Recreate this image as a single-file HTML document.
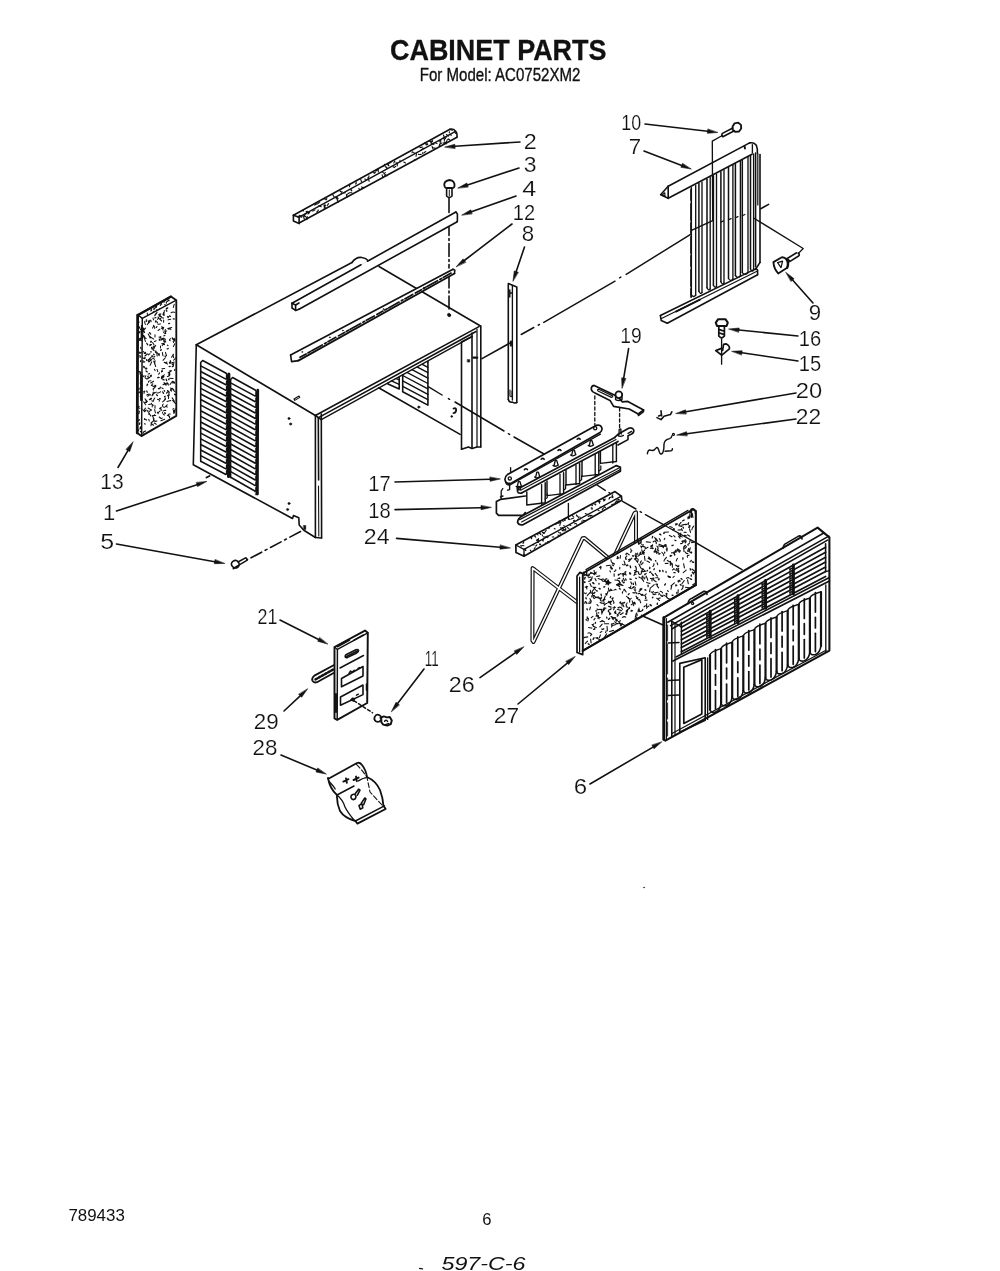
<!DOCTYPE html>
<html><head><meta charset="utf-8"><title>Cabinet Parts</title>
<style>
html,body{margin:0;padding:0;background:#fff}
body{width:1000px;height:1271px;overflow:hidden}
svg{display:block;filter:grayscale(1)}
svg .ah{fill:#111;stroke-width:.6}
svg .blk{fill:#111}
svg .wf{fill:#fff}
text{stroke:none;font-family:"Liberation Sans",sans-serif;fill:#111}
.ttl{font-weight:bold;stroke:#111;stroke-width:.3px}
.sub{stroke:#111;stroke-width:.35px}
.lb{stroke:#fff;stroke-width:.2px}
.hw{font-style:italic}
</style></head><body>
<svg width="1000" height="1271" viewBox="0 0 1000 1271">
<g stroke="#111" stroke-width="1.6" fill="none" stroke-linecap="round" stroke-linejoin="round">
<text class="ttl" x="390" y="60.4" font-size="30" textLength="216.5" lengthAdjust="spacingAndGlyphs">CABINET PARTS</text>
<text class="sub" x="419.8" y="81" font-size="17.8" textLength="160.6" lengthAdjust="spacingAndGlyphs">For Model: AC0752XM2</text>
<text class="ft" x="68.4" y="1221" font-size="16.6" textLength="56.4" lengthAdjust="spacingAndGlyphs">789433</text>
<text class="ft" x="482.2" y="1225" font-size="16.6">6</text>
<text class="hw" x="441.5" y="1269.5" font-size="18.5" textLength="84" lengthAdjust="spacingAndGlyphs">597-C-6</text>
<text class="lb" x="523.8" y="149.3" font-size="22" text-anchor="start" textLength="13" lengthAdjust="spacingAndGlyphs">2</text>
<text class="lb" x="523.8" y="172.3" font-size="22" text-anchor="start" textLength="12.8" lengthAdjust="spacingAndGlyphs">3</text>
<text class="lb" x="522.2" y="195.9" font-size="22" text-anchor="start" textLength="14" lengthAdjust="spacingAndGlyphs">4</text>
<text class="lb" x="512.8" y="219.9" font-size="22" text-anchor="start" textLength="22.4" lengthAdjust="spacingAndGlyphs">12</text>
<text class="lb" x="521.8" y="241.3" font-size="22" text-anchor="start" textLength="12.4" lengthAdjust="spacingAndGlyphs">8</text>
<text class="lb" x="621.3" y="130.3" font-size="22" text-anchor="start" textLength="19.9" lengthAdjust="spacingAndGlyphs">10</text>
<text class="lb" x="628.8" y="154.1" font-size="22" text-anchor="start" textLength="12.4" lengthAdjust="spacingAndGlyphs">7</text>
<text class="lb" x="808.8" y="320.3" font-size="22" text-anchor="start" textLength="12.4" lengthAdjust="spacingAndGlyphs">9</text>
<text class="lb" x="798.8" y="346.3" font-size="22" text-anchor="start" textLength="22.4" lengthAdjust="spacingAndGlyphs">16</text>
<text class="lb" x="798.8" y="370.8" font-size="22" text-anchor="start" textLength="22.4" lengthAdjust="spacingAndGlyphs">15</text>
<text class="lb" x="795.8" y="397.8" font-size="22" text-anchor="start" textLength="26.4" lengthAdjust="spacingAndGlyphs">20</text>
<text class="lb" x="795.8" y="423.8" font-size="22" text-anchor="start" textLength="25.4" lengthAdjust="spacingAndGlyphs">22</text>
<text class="lb" x="620.3" y="343.3" font-size="22" text-anchor="start" textLength="21.4" lengthAdjust="spacingAndGlyphs">19</text>
<text class="lb" x="100.3" y="488.8" font-size="22" text-anchor="start" textLength="23.4" lengthAdjust="spacingAndGlyphs">13</text>
<text class="lb" x="103.1" y="520.3" font-size="22" text-anchor="start">1</text>
<text class="lb" x="100.3" y="548.8" font-size="22" text-anchor="start" textLength="13.9" lengthAdjust="spacingAndGlyphs">5</text>
<text class="lb" x="368.3" y="490.7" font-size="22" text-anchor="start" textLength="22.4" lengthAdjust="spacingAndGlyphs">17</text>
<text class="lb" x="368.3" y="517.7" font-size="22" text-anchor="start" textLength="22.4" lengthAdjust="spacingAndGlyphs">18</text>
<text class="lb" x="363.8" y="543.8" font-size="22" text-anchor="start" textLength="25.8" lengthAdjust="spacingAndGlyphs">24</text>
<text class="lb" x="448.8" y="691.8" font-size="22" text-anchor="start" textLength="25.9" lengthAdjust="spacingAndGlyphs">26</text>
<text class="lb" x="493.8" y="723.3" font-size="22" text-anchor="start" textLength="25.4" lengthAdjust="spacingAndGlyphs">27</text>
<text class="lb" x="573.8" y="793.8" font-size="22" text-anchor="start" textLength="13.4" lengthAdjust="spacingAndGlyphs">6</text>
<text class="lb" x="257.6" y="624.3" font-size="22" text-anchor="start" textLength="19.9" lengthAdjust="spacingAndGlyphs">21</text>
<text class="lb" x="253.8" y="729.3" font-size="22" text-anchor="start" textLength="24.9" lengthAdjust="spacingAndGlyphs">29</text>
<text class="lb" x="252.6" y="755.3" font-size="22" text-anchor="start" textLength="24.9" lengthAdjust="spacingAndGlyphs">28</text>
<text class="lb" x="424.8" y="666.3" font-size="22" text-anchor="start" textLength="13.9" lengthAdjust="spacingAndGlyphs">11</text>
<line x1="520" y1="142" x2="455" y2="146.3"/>
<path class="ah" d="M445 147 L454.8 144.3 L455.1 148.3 Z"/>
<line x1="519" y1="168" x2="467.5" y2="184.9"/>
<path class="ah" d="M458 188 L466.9 183 L468.1 186.8 Z"/>
<line x1="516" y1="196" x2="471.4" y2="211.7"/>
<path class="ah" d="M462 215 L470.8 209.8 L472.1 213.6 Z"/>
<line x1="512" y1="224" x2="464.3" y2="260.5"/>
<path class="ah" d="M456.4 266.6 L463.1 258.9 L465.6 262.1 Z"/>
<line x1="645" y1="124" x2="707.6" y2="131.3"/>
<path class="ah" d="M717.5 132.5 L707.3 133.3 L707.8 129.3 Z"/>
<line x1="644" y1="151" x2="681.7" y2="165.4"/>
<path class="ah" d="M691 169 L680.9 167.3 L682.4 163.6 Z"/>
<line x1="813" y1="303" x2="792.6" y2="280"/>
<path class="ah" d="M786 272.5 L794.1 278.7 L791.1 281.3 Z"/>
<line x1="798" y1="336" x2="738.9" y2="330"/>
<path class="ah" d="M729 329 L739.2 328 L738.7 332 Z"/>
<line x1="798" y1="361" x2="741.9" y2="352.8"/>
<path class="ah" d="M732 351.3 L742.2 350.8 L741.6 354.7 Z"/>
<line x1="796" y1="393" x2="685.9" y2="411.7"/>
<path class="ah" d="M676 413.4 L685.5 409.8 L686.2 413.7 Z"/>
<line x1="796" y1="419" x2="686.9" y2="433.7"/>
<path class="ah" d="M677 435 L686.6 431.7 L687.2 435.6 Z"/>
<line x1="628.6" y1="348.6" x2="623.7" y2="378.1"/>
<path class="ah" d="M622 388 L621.7 377.8 L625.6 378.5 Z"/>
<line x1="118" y1="467.5" x2="127.9" y2="450.6"/>
<path class="ah" d="M133 442 L129.7 451.6 L126.2 449.6 Z"/>
<line x1="116.5" y1="511" x2="197" y2="484.7"/>
<path class="ah" d="M206.5 481.6 L197.6 486.6 L196.4 482.8 Z"/>
<line x1="116.5" y1="544" x2="214.7" y2="561.7"/>
<path class="ah" d="M224.5 563.5 L214.3 563.7 L215 559.8 Z"/>
<line x1="395" y1="482" x2="490" y2="479.3"/>
<path class="ah" d="M500 479 L490.1 481.3 L489.9 477.3 Z"/>
<line x1="395" y1="509.6" x2="481" y2="507.7"/>
<path class="ah" d="M491 507.5 L481 509.7 L481 505.7 Z"/>
<line x1="396.5" y1="538.4" x2="500" y2="547.2"/>
<path class="ah" d="M510 548 L499.9 549.2 L500.2 545.2 Z"/>
<line x1="480" y1="677.6" x2="515.5" y2="652.7"/>
<path class="ah" d="M523.7 647 L516.7 654.4 L514.4 651.1 Z"/>
<line x1="518" y1="704" x2="567.3" y2="663.1"/>
<path class="ah" d="M575 656.7 L568.6 664.6 L566 661.5 Z"/>
<line x1="590" y1="784" x2="653" y2="747.1"/>
<path class="ah" d="M661.6 742 L654 748.8 L652 745.3 Z"/>
<line x1="280" y1="620" x2="318.6" y2="639.5"/>
<path class="ah" d="M327.5 644 L317.7 641.3 L319.5 637.7 Z"/>
<line x1="284" y1="711" x2="300.2" y2="695.8"/>
<path class="ah" d="M307.5 689 L301.6 697.3 L298.8 694.4 Z"/>
<line x1="281" y1="755" x2="316.8" y2="770.1"/>
<path class="ah" d="M326 774 L316 772 L317.6 768.3 Z"/>
<line x1="424" y1="669" x2="397.6" y2="703.6"/>
<path class="ah" d="M391.5 711.5 L396 702.3 L399.2 704.8 Z"/>
<line x1="524.5" y1="247" x2="516.2" y2="271.5"/>
<path class="ah" d="M513 281 L514.3 270.9 L518.1 272.2 Z"/>
<path d="M419.5 1268.4 l3 .4" stroke-width="1.2"/>
<circle cx="644" cy="887.5" r="0.6" style="fill:#555" stroke-width="0.37"/>
<path d="M196.3 344.8 L193.3 464.8 L292.5 518.5 L293.5 515.5 L298.8 517.8 L299.2 525 L303.8 530.2 L315.4 537.5"/>
<rect class="blk" x="303.6" y="525.5" width="2.2" height="4" stroke-width=".5"/>
<line x1="196.3" y1="344.8" x2="315.4" y2="415.5"/>
<line x1="196.3" y1="344.8" x2="352" y2="262.5"/>
<path d="M352 262.5 Q356 256.5 362 257.5 Q366 258 368.5 261"/>
<line x1="379" y1="266.5" x2="480.5" y2="326"/>
<line x1="315.4" y1="415.5" x2="315.4" y2="537.5"/>
<line x1="318.3" y1="418" x2="318.6" y2="480"/>
<line x1="321.3" y1="414" x2="321.6" y2="538"/>
<line x1="315.4" y1="537.5" x2="321.6" y2="538"/>
<line x1="318.5" y1="486" x2="318.8" y2="536" stroke-width="1.10"/>
<line x1="315.4" y1="415.5" x2="479" y2="326.6"/>
<line x1="318.5" y1="417.6" x2="476" y2="331.5"/>
<line x1="321.3" y1="419.6" x2="472" y2="336.6" stroke-width="1.34"/>
<line x1="315.4" y1="415.5" x2="321.3" y2="419.6"/>
<line x1="480.8" y1="326" x2="480.8" y2="447"/>
<line x1="477" y1="329" x2="477" y2="447" stroke-width="1.22"/>
<line x1="472" y1="333" x2="472" y2="448.5"/>
<line x1="461.5" y1="342" x2="461.5" y2="449.3"/>
<path d="M461.5 449.3 L468.5 447 L472 448.5 L477 447 L480.8 447"/>
<line x1="472" y1="336.5" x2="461.5" y2="342"/>
<rect class="blk" x="467.4" y="359.5" width="2.4" height="2.6" stroke-width=".4"/>
<line x1="473.5" y1="357.6" x2="477" y2="357.6" stroke-width="2.44"/>
<clipPath id="cin"><path d="M360 397.2 L472 337 L461 337 L461 460 L360 460Z"/></clipPath>
<g clip-path="url(#cin)">
<line x1="378.2" y1="387.5" x2="460.1" y2="434.4"/>
<path d="M402.7 331.7 L402.7 391.7 L427.9 405.1 L427.9 345.1"/>
<line x1="402.7" y1="386.3" x2="427.9" y2="399.7" stroke-width="1.40"/>
<line x1="402.7" y1="380.9" x2="427.9" y2="394.3" stroke-width="1.40"/>
<line x1="402.7" y1="375.5" x2="427.9" y2="388.9" stroke-width="1.40"/>
<line x1="402.7" y1="370.1" x2="427.9" y2="383.5" stroke-width="1.40"/>
<line x1="402.7" y1="364.7" x2="427.9" y2="378.1" stroke-width="1.40"/>
<line x1="402.7" y1="359.3" x2="427.9" y2="372.7" stroke-width="1.40"/>
<line x1="402.7" y1="353.9" x2="427.9" y2="367.3" stroke-width="1.40"/>
<line x1="402.7" y1="348.5" x2="427.9" y2="361.9" stroke-width="1.40"/>
<path d="M388 324 L388 384 L399.2 389 L399.2 329"/>
<line x1="388" y1="379.4" x2="399.2" y2="384.4" stroke-width="1.40"/>
<line x1="388" y1="374.8" x2="399.2" y2="379.8" stroke-width="1.40"/>
<line x1="388" y1="370.2" x2="399.2" y2="375.2" stroke-width="1.40"/>
</g>
<circle cx="418.8" cy="407.1" r="1.1" style="fill:#111" stroke-width="0.61"/>
<path d="M453.5 408.5 q3 -1 2.6 2 q-.6 2.6 -2.6 2.6" stroke-width="1.83"/>
<circle cx="451.7" cy="416.4" r="0.9" style="fill:#111" stroke-width="0.61"/>
<circle cx="289" cy="418.5" r="1.1" style="fill:#111" stroke-width="0.61"/>
<circle cx="290.6" cy="424" r="1.1" style="fill:#111" stroke-width="0.61"/>
<circle cx="289" cy="503.5" r="1.1" style="fill:#111" stroke-width="0.61"/>
<circle cx="287.6" cy="509.5" r="1.1" style="fill:#111" stroke-width="0.61"/>
<path d="M294 399 l5 -3 l0.8 1.4 l-5 3z" stroke-width="1.10"/>
<circle cx="449.5" cy="315.5" r="1.2" style="fill:#111" stroke-width="0.61"/>
<path d="M206.5 477.5 l3 -1.5" stroke-width="1.95"/>
<path d="M200.7 461.5 L200.7 362.5 L202.7 360.5 L226.2 373.3 L227.2 375.3 L227.2 474.2" stroke-width="1.59"/>
<path d="M201.2 366.1 L225.4 378.9 q1.6 .8 1.2 -3.2" stroke-width="1.59"/>
<path d="M201.2 371.7 L225.4 384.5 q1.6 .8 1.2 -3.2" stroke-width="1.59"/>
<path d="M201.2 377.3 L225.4 390.1 q1.6 .8 1.2 -3.2" stroke-width="1.59"/>
<path d="M201.2 382.9 L225.4 395.7 q1.6 .8 1.2 -3.2" stroke-width="1.59"/>
<path d="M201.2 388.6 L225.4 401.3 q1.6 .8 1.2 -3.2" stroke-width="1.59"/>
<path d="M201.2 394.2 L225.4 406.9 q1.6 .8 1.2 -3.2" stroke-width="1.59"/>
<path d="M201.2 399.8 L225.4 412.5 q1.6 .8 1.2 -3.2" stroke-width="1.59"/>
<path d="M201.2 405.4 L225.4 418.1 q1.6 .8 1.2 -3.2" stroke-width="1.59"/>
<path d="M201.2 411 L225.4 423.8 q1.6 .8 1.2 -3.2" stroke-width="1.59"/>
<path d="M201.2 416.6 L225.4 429.4 q1.6 .8 1.2 -3.2" stroke-width="1.59"/>
<path d="M201.2 422.2 L225.4 435 q1.6 .8 1.2 -3.2" stroke-width="1.59"/>
<path d="M201.2 427.8 L225.4 440.6 q1.6 .8 1.2 -3.2" stroke-width="1.59"/>
<path d="M201.2 433.4 L225.4 446.2 q1.6 .8 1.2 -3.2" stroke-width="1.59"/>
<path d="M201.2 439.1 L225.4 451.8 q1.6 .8 1.2 -3.2" stroke-width="1.59"/>
<path d="M201.2 444.7 L225.4 457.4 q1.6 .8 1.2 -3.2" stroke-width="1.59"/>
<path d="M201.2 450.3 L225.4 463 q1.6 .8 1.2 -3.2" stroke-width="1.59"/>
<path d="M201.2 455.9 L225.4 468.6 q1.6 .8 1.2 -3.2" stroke-width="1.59"/>
<path d="M201.2 461.5 L225.4 474.2 q1.6 .8 1.2 -3.2" stroke-width="1.59"/>
<path d="M230.6 477.5 L230.6 379.5 L232.6 377.5 L255.6 390.3 L256.6 392.3 L256.6 491" stroke-width="1.59"/>
<path d="M231.1 383.1 L254.8 395.9 q1.6 .8 1.2 -3.2" stroke-width="1.59"/>
<path d="M231.1 388.6 L254.8 401.5 q1.6 .8 1.2 -3.2" stroke-width="1.59"/>
<path d="M231.1 394.2 L254.8 407.1 q1.6 .8 1.2 -3.2" stroke-width="1.59"/>
<path d="M231.1 399.7 L254.8 412.7 q1.6 .8 1.2 -3.2" stroke-width="1.59"/>
<path d="M231.1 405.3 L254.8 418.3 q1.6 .8 1.2 -3.2" stroke-width="1.59"/>
<path d="M231.1 410.8 L254.8 423.9 q1.6 .8 1.2 -3.2" stroke-width="1.59"/>
<path d="M231.1 416.4 L254.8 429.5 q1.6 .8 1.2 -3.2" stroke-width="1.59"/>
<path d="M231.1 421.9 L254.8 435.1 q1.6 .8 1.2 -3.2" stroke-width="1.59"/>
<path d="M231.1 427.5 L254.8 440.6 q1.6 .8 1.2 -3.2" stroke-width="1.59"/>
<path d="M231.1 433.1 L254.8 446.2 q1.6 .8 1.2 -3.2" stroke-width="1.59"/>
<path d="M231.1 438.6 L254.8 451.8 q1.6 .8 1.2 -3.2" stroke-width="1.59"/>
<path d="M231.1 444.2 L254.8 457.4 q1.6 .8 1.2 -3.2" stroke-width="1.59"/>
<path d="M231.1 449.7 L254.8 463 q1.6 .8 1.2 -3.2" stroke-width="1.59"/>
<path d="M231.1 455.3 L254.8 468.6 q1.6 .8 1.2 -3.2" stroke-width="1.59"/>
<path d="M231.1 460.8 L254.8 474.2 q1.6 .8 1.2 -3.2" stroke-width="1.59"/>
<path d="M231.1 466.4 L254.8 479.8 q1.6 .8 1.2 -3.2" stroke-width="1.59"/>
<path d="M231.1 471.9 L254.8 485.4 q1.6 .8 1.2 -3.2" stroke-width="1.59"/>
<path d="M231.1 477.5 L254.8 491 q1.6 .8 1.2 -3.2" stroke-width="1.59"/>
<line x1="228.8" y1="374" x2="228.6" y2="476.5" stroke-width="3.17"/>
<line x1="257.8" y1="390" x2="257.4" y2="494" stroke-width="2.68"/>
<rect class="blk" x="255.6" y="490" width="2.4" height="5" stroke-width=".4"/>
<line x1="300.5" y1="531.5" x2="247" y2="560" stroke-dasharray="12 4 2 4"/>
<path d="M232.5 566.5 q-2.5 -2.8 .4 -5.2 q3.2 -2 5.4 .6 q2 3 -.6 5.4 q-3 1.8 -5.2 -.8z" stroke-width="1.59" style="fill:#fff"/>
<path d="M238 562 l7.5 -4.2 q1.8 .6 1.4 2.6 l-7.6 4.4" stroke-width="1.46"/>
<path d="M233.5 568.5 l4.5 -2.6" stroke-width="1.95"/>
<line x1="293.4" y1="215.3" x2="450" y2="129.2"/>
<line x1="299.1" y1="217.2" x2="455.5" y2="131.3" stroke-width="1.34"/>
<line x1="299.1" y1="223" x2="457" y2="137.2"/>
<path d="M293.4 215.3 L293.4 221 L299.1 223.6"/>
<line x1="293.4" y1="215.3" x2="299.1" y2="217.2"/>
<line x1="299.1" y1="217.2" x2="299.1" y2="223"/>
<path d="M450 129.2 q4 -1 5.5 2.1 M455.5 131.3 q1.8 1 1.5 5.9"/>
<path d="M333.3 194.9q-1.3 -0.9 0.9 2M424.9 142.7l2.2 2M427.3 143.7q1.2 0.7 -0.6 1.2M412 152.6q0.4 -1.6 2.5 0.5M432.4 140.7q0.8 0.6 -1.7 2.1M422.6 147l-2.7 0.6M316.9 203.9q-1.7 0.1 -1.9 0.2M356.1 181.7q0.4 2.8 -0.6 2.1M433.3 143q1.5 2.2 -0.7 1.1M385.5 166.9q0.2 -0.9 2.1 1.6M431.3 143.5l2.5 0.7M319.7 202l-2.1 1.8M390.4 161.8q1.4 0.7 -1.1 1.3M450.4 129.7l2.1 0.5M326.8 198.5l-0.4 1.2M432.4 141.1l-2.8 0.4M368.9 175.7q0 2.7 -1 2M375.7 171.9l-0.9 1.1M449.5 131.7l-0.2 1M384.7 164.3l-0.8 2.1M394.7 161.5q0.5 -1.2 -0.9 1.4M307.5 211.3l-1.5 0.2M387.7 164.2l0.7 1.5M387.9 163.4l1 2.4M386.2 167.2q-0.6 -0.7 0.8 1.2M364.7 179l1.6 0.5M427 144.1l-1.2 0.6M400 160.4l0.2 1.4M378.5 169.3l-2.2 1.5M342.1 191.7l-1.1 2.4M316 204.2l-1.2 0.9M360.6 178.9l0.8 2.7M300.9 216.1l-2.8 1.1M446.4 134.6q1.6 0.9 1.9 1.6M340.2 190.7q-0.4 1.6 0.9 0.7M306.4 212q0.8 1.5 -1.6 2.3M299 215.2q0.8 0.1 1.4 0.8M443.5 135.1q0.3 1.8 0.7 1.3M349.8 184.1l-0.3 2.6M423.6 148.3l-2.2 1.5M395.9 162.8l1.5 0.2M378.2 169.5l0.2 2.5M302.2 210.6q1.9 -1.4 1.1 0.4M373.3 172q0.8 0.2 0.9 1.4M324.2 199.1q0.5 -1.3 2 0.8" stroke-width="1.10"/>
<path d="M335.8 196.9l0.4 1.2M363.5 187.3l-2 1.5M382.7 172.4l1 0.6M446.4 141.7l-2.1 1.5M348.8 193.2q-2.6 1.4 -1.8 2M403.8 162l1.7 1M446.6 141.2q0.2 2.3 -0.2 1.6M432.1 146.3l0.6 2.1M324.9 204.8l-0.9 0.6M397.4 164.1l-0.2 1.9M455.2 132q-0.7 0.1 0.4 1.4M416.5 153.5l-0.5 2.8M309.6 212.5l-1.7 1.5M350.9 189.3q1.7 2.4 0.1 1.1M414.3 159.7q1.9 -0.3 1.6 0.1M448.2 139.4l-1.3 0.9M368.1 178.5l1.1 2.7M299.5 216l2.2 1.3M345.5 192.8l-1.8 0.1M307.4 211.8l2 1.2M304.5 215.5l2.1 2.1M382.1 174.8l0.8 2.9M336.2 198.7l1.8 0.2M439.3 145.2l0 1.1M336.1 196.7l2 1.8M307.5 216.7l-0.6 2.9M441.9 142.9l-2 1.5M315 209.9q-1.9 1.2 -2.6 1.1M425.8 151.7q-0.1 -0.4 -1.7 1.1M443.3 143.2q2.1 -1.5 2.9 0.7M441 140.6l-2.3 0.2M325.7 205.3q-1.4 -0.8 -0.5 2.4M443.9 137.8q0.6 1.7 -1.1 0.5M385 174.4l1.9 1.4M439.5 144.1l0.2 2M304.4 216.3q-1.4 0.8 0.1 2.7M418.4 154.3q-0.3 0.2 2.7 0.1M358.8 188.4l0.8 1.2M449.3 134.4q1.1 0.1 2.1 0.8M432.9 147.8l2.7 0.6M346.4 194.8l0.6 2.5M435.2 142.7l1.8 0.9M384.9 175.5l-0.6 0.8M385.3 172.5l-1.2 1.5M337.2 199.9q1.1 1.8 1.1 2.3M395.6 166.4q-1.7 1.7 -1.9 0.5M422.8 152.6q-0.4 1.3 0.2 1.3M318.8 205.7l2.4 1.1M440.9 141.1q-1.8 0.4 -0.4 1.7M446.2 137.1l-0.8 1.5M304 215.1q-0.1 2 -2.6 0.4M324 205.9q1.1 2.9 0 2.1M318.1 209.9q0.7 0.3 -1.3 2.1M445.2 138.6q-1.2 0.3 -0.9 2.7M351.9 192.8l-2.8 0M361.7 186.8l1.1 1.4M328.6 203.6l-1.3 1.8M448.2 138.9q2.5 1.9 1 0.5M393.1 166.9l1.5 0.4M446 142.3l-1 0.8" stroke-width="1.10"/>
<path d="M444.6 186.6 q-1.6 -5.6 4.8 -6.6 q6 .6 5 6.6 q-.8 1.8 -2.8 1.4 l-4.4 0 q-2.2 .2 -2.6 -1.4z" stroke-width="1.83"/>
<path d="M446.6 188 l0 8 q2.6 3 5.4 0 l0 -8" stroke-width="1.59"/>
<line x1="449.3" y1="190" x2="449.3" y2="196" stroke-width="0.98"/>
<line x1="449" y1="198.5" x2="449" y2="212.5"/>
<line x1="449" y1="222.5" x2="449" y2="268" stroke-dasharray="13 3 2 3"/>
<line x1="449" y1="275" x2="449" y2="309" stroke-dasharray="13 3 2 3"/>
<circle cx="448.9" cy="314.7" r="1.5" style="fill:#111" stroke-width="0.61"/>
<path d="M292 303.2 L455.9 212 L457.4 214 L457.4 221 L456.8 222 L299 309.2 L295.6 310.4 L292 308 Z" stroke-width="0.12" style="fill:#fff"/>
<line x1="292" y1="303.2" x2="361" y2="264.8"/>
<line x1="367.5" y1="261.2" x2="455.9" y2="212"/>
<line x1="299" y1="309.2" x2="456.8" y2="222"/>
<path d="M455.9 212 L457.4 214 L457.4 221 L456.8 222"/>
<path d="M292 303.2 L292 308 L295.6 310.4 L299 309.2"/>
<path d="M295.6 310.4 L295.6 305 L292 303.2"/>
<line x1="295.6" y1="305" x2="299" y2="303"/>
<path d="M290.6 355 L453 269.3 L454.8 270.2 L454.5 273.5 L298.4 360.6 L291.6 361.6 Z" stroke-width="0.12" style="fill:#fff"/>
<line x1="290.6" y1="355" x2="453" y2="269.3"/>
<line x1="298.4" y1="360.6" x2="454.5" y2="273.5" stroke-width="1.83"/>
<path d="M290.6 355 L291.6 361.6 L298.4 360.6"/>
<path d="M453 269.3 L454.8 270.2 L454.5 273.5"/>
<line x1="300" y1="357.3" x2="452" y2="272.6" stroke-width="1.7" stroke-dasharray="7 2 3 1.5 12 2.5 2 2 9 3"/>
<circle cx="302.2" cy="351.9" r="0.5" style="fill:#111" stroke-width="0.49"/>
<circle cx="329.8" cy="337.3" r="0.5" style="fill:#111" stroke-width="0.49"/>
<circle cx="342.8" cy="330.5" r="0.5" style="fill:#111" stroke-width="0.49"/>
<circle cx="383.4" cy="309.1" r="0.5" style="fill:#111" stroke-width="0.49"/>
<circle cx="424" cy="287.6" r="0.5" style="fill:#111" stroke-width="0.49"/>
<path d="M508.3 399.5 L508.3 283.6 L516.8 287 L516.8 402.5"/>
<line x1="512.4" y1="285.5" x2="512.4" y2="400" stroke-width="1.34"/>
<path d="M508.3 399.5 q1 3.4 4 2.6 q2.4 1.6 4.5 .4"/>
<path d="M509.8 290 l0 7 M510.5 293 l1.4 0" stroke-width="1.46"/>
<path d="M510.4 341 l0 5 M511.6 341 l0 5" stroke-width="1.10"/>
<path d="M510 390 l0 6 q1.2 1.4 2 0 l0 -5" stroke-width="1.10"/>
<line x1="482" y1="358.6" x2="511.5" y2="342.2"/>
<path d="M521.2 334.5 L533.8 327.5 M538.2 325.2 l1.2 -.7 M543.8 322.4 L615 281.2 M619.6 277.8 l1.2 -.7 M626.2 274.4 L691.4 233.8" stroke-width="1.46"/>
<line x1="668.2" y1="186.2" x2="749.6" y2="142.9"/>
<line x1="668.2" y1="198.3" x2="752" y2="154.2"/>
<path d="M668.2 186.2 L660.6 194.8 L668.2 198.3" stroke-width="1.59"/>
<line x1="668.2" y1="186.2" x2="668.2" y2="198.3"/>
<path d="M661.8 195.2 l3 -2.4 l0.2 3z" stroke-width="1.10"/>
<path d="M749.6 142.9 q4.5 -1 6.8 2.6 q1.4 3.5 1 7.8"/>
<path d="M752.4 144.6 l0 8.5" stroke-width="1.34"/>
<line x1="744.5" y1="146.2" x2="745" y2="148.5" stroke-width="1.95"/>
<line x1="691.3" y1="187.8" x2="691.3" y2="294.6" stroke-width="1.52"/>
<line x1="695.7" y1="185.4" x2="695.7" y2="295.2" stroke-width="1.34"/>
<line x1="698.9" y1="183.6" x2="698.9" y2="291.3" stroke-width="1.52"/>
<line x1="702" y1="182" x2="702" y2="292.5" stroke-width="1.34"/>
<line x1="707" y1="179.3" x2="707" y2="287.8" stroke-width="1.52"/>
<line x1="710.2" y1="177.5" x2="710.2" y2="288.9" stroke-width="1.34"/>
<line x1="713.4" y1="175.8" x2="713.4" y2="285.1" stroke-width="1.52"/>
<line x1="716.5" y1="174.1" x2="716.5" y2="286.2" stroke-width="1.34"/>
<line x1="720.9" y1="171.7" x2="720.9" y2="281.8" stroke-width="1.52"/>
<line x1="724" y1="170" x2="724" y2="283" stroke-width="1.34"/>
<line x1="728.5" y1="167.6" x2="728.5" y2="278.5" stroke-width="1.52"/>
<line x1="732.9" y1="165.2" x2="732.9" y2="279.1" stroke-width="1.34"/>
<line x1="735.4" y1="163.8" x2="735.4" y2="275.5" stroke-width="1.52"/>
<line x1="740.4" y1="161.1" x2="740.4" y2="275.9" stroke-width="1.34"/>
<line x1="742.3" y1="160.1" x2="742.3" y2="272.6" stroke-width="1.52"/>
<line x1="748" y1="157" x2="748" y2="272.6" stroke-width="1.34"/>
<line x1="750.5" y1="155.6" x2="750.5" y2="269" stroke-width="1.52"/>
<line x1="753.6" y1="154" x2="753.6" y2="270.2" stroke-width="1.34"/>
<line x1="755.6" y1="152.9" x2="755.6" y2="266.8" stroke-width="1.52"/>
<path d="M691.3 294.6 q2.2 3.5 4.4 0.6 M698.9 291.3 q1.6 3.5 3.1 1.2 M707 287.8 q1.6 3.5 3.2 1.1 M713.4 285.1 q1.6 3.5 3.1 1.2 M720.9 281.8 q1.6 3.5 3.1 1.2 M728.5 278.5 q2.2 3.5 4.4 0.6 M735.4 275.5 q2.5 3.5 5 0.3 M742.3 272.6 q2.9 3.5 5.7 0 M750.5 269 q1.6 3.5 3.1 1.2 " stroke-width="1.34"/>
<line x1="760" y1="154.5" x2="760" y2="262.4"/>
<path d="M755.6 269.3 L760 262.4"/>
<line x1="757.8" y1="153.5" x2="757.8" y2="205" stroke-width="1.22"/>
<line x1="691.1" y1="190" x2="691.1" y2="297" stroke-width="1.8" stroke-dasharray="10 4 16 3"/>
<line x1="692" y1="230.2" x2="712.7" y2="220.6" stroke-width="1.46"/>
<line x1="720.9" y1="222.1" x2="723.5" y2="220.9" stroke-width="1.22"/>
<line x1="728.5" y1="219.8" x2="731.1" y2="218.6" stroke-width="1.22"/>
<line x1="735.4" y1="217.8" x2="738" y2="216.6" stroke-width="1.22"/>
<line x1="742.3" y1="215.7" x2="744.9" y2="214.5" stroke-width="1.22"/>
<line x1="660.4" y1="315.5" x2="756" y2="268.6"/>
<line x1="661.5" y1="318.5" x2="757" y2="271.2" stroke-width="1.22"/>
<line x1="667.3" y1="323.2" x2="757.6" y2="274.8"/>
<path d="M660.4 315.5 L661.2 320.6 L667.3 323.2"/>
<path d="M756 268.6 L757.6 270 L757.6 274.8"/>
<line x1="676" y1="311.6" x2="700" y2="299.6" stroke-width="1.8"/>
<path d="M732.6 126.5 l2 -3.2 l3.6 -.6 l2.8 2.2 l.2 3.6 l-2.2 3 l-3.8 .4 l-2.6 -2.4z" stroke-width="1.83"/>
<path d="M732.8 128 l-10.4 5.4 q-1.4 2 .4 3.4 l11.6 -6" stroke-width="1.59"/>
<path d="M721.4 136 L712.3 141.2 L712.7 220.6" stroke-width="1.34"/>
<line x1="760.8" y1="208.7" x2="768.6" y2="204.4"/>
<path d="M754 218.2 L803.2 248.5 L798.2 253.6" stroke-width="1.34"/>
<path d="M798.4 253 q1.6 1.6 .2 3 l-9 5.6 l-2 -3.4 l9 -5.4" stroke-width="1.59"/>
<path d="M786.4 259.5 q2.4 4 .4 8.4 l-8.6 5.6 q-4.4 -5 -4.8 -11.4 l8.4 -4.8 q3 -.2 4.6 2.2z" stroke-width="1.83"/>
<path d="M777.6 262.6 l5 -1.4 l-1.6 6.4z" stroke-width="1.22"/>
<path d="M786.6 258.4 q3.6 4.6 .8 10" stroke-width="1.34"/>
<path d="M428.6 386.8 L442 395 M448.4 398.6 l1.2 .7 M455 402 L504 431 M508.4 433.7 l1.2 .7 M514 437 L544 454" stroke-width="1.46"/>
<path d="M595.6 484 L605.2 490.4 M609 492.6 l1.2 .7 M622.6 501.4 L635.9 509 M640.2 511.6 l1.2 .7 M645.4 514.7 L664.4 525.2" stroke-width="1.46"/>
<path d="M594.2 385.4 q-3.4 .6 -2.8 4.4 q.8 2.6 3.6 3.2 l15 7.4 l3.6 6 l15.6 2.6 l9 5 l5.4 -4 l-15.8 -8.6 l-5.6 .4 q-3 -3.6 -5.2 -5.6 z" stroke-width="1.71"/>
<path d="M598.8 389.2 l13.4 6.4 q1.4 1.6 -.8 1.8 l-13.4 -6.4 q-1.2 -1.6 .8 -1.8z" stroke-width="1.22"/>
<path d="M638.2 413.8 l.2 1.8 l5.2 -4 l0 -2" stroke-width="1.34"/>
<circle cx="618.8" cy="394.8" r="3.4" style="fill:#fff" stroke-width="1.83"/>
<path d="M615.6 397 l0 2.6 q3.2 2 6.4 0 l0 -2.6" stroke-width="1.46"/>
<line x1="594.8" y1="396" x2="594.8" y2="425" stroke-dasharray="3 2.5" stroke-width="1.34"/>
<line x1="619.6" y1="408" x2="619.6" y2="428" stroke-dasharray="3 2.5" stroke-width="1.34"/>
<path d="M507.4 474.6 L596 425.4 q5 -1.4 6 3 q.2 2.8 -2 4.2 L511.6 483 q-5.6 1.6 -6.6 -3.2 q-.2 -3.4 2.4 -5.2z" stroke-width="1.71"/>
<path d="M505.4 481.4 q.6 3.8 4.6 3.6 L600.4 434.2" stroke-width="1.34"/>
<circle cx="509.8" cy="478.4" r="1.6" style="fill:none" stroke-width="1.34"/>
<circle cx="595.2" cy="428.2" r="1.6" style="fill:none" stroke-width="1.34"/>
<path d="M524.4 469.6 q1.6 -1.6 3 0" stroke-width="1.59"/>
<path d="M541.2 459.2 q1.6 -1.6 3 0" stroke-width="1.59"/>
<path d="M558 450.4 q1.6 -1.6 3 0" stroke-width="1.59"/>
<path d="M577.2 439.2 q1.6 -1.6 3 0" stroke-width="1.59"/>
<path d="M509.6 484.6 l0 5 l-2 .6 M510.6 467.6 l0 5" stroke-width="1.34"/>
<path d="M526.8 492 L526.8 505 L545.2 502.8 L545.2 482.8" stroke-width="1.46"/>
<line x1="541.6" y1="484.6" x2="541.6" y2="504.6" stroke-width="1.34"/>
<path d="M547 481 L547 495.6 L563.6 493.6 L563.6 472.7" stroke-width="1.46"/>
<line x1="560" y1="474.5" x2="560" y2="495.2" stroke-width="1.34"/>
<path d="M566 470.5 L566 485 L579.6 483.4 L579.6 463.7" stroke-width="1.46"/>
<line x1="576" y1="465.5" x2="576" y2="484.6" stroke-width="1.34"/>
<path d="M582 460 L582 476.4 L598.8 474.4 L598.8 451.6" stroke-width="1.46"/>
<line x1="595.2" y1="453.4" x2="595.2" y2="476" stroke-width="1.34"/>
<path d="M600.4 449.6 L600.4 463.4 L616.4 461.5 L616.4 441.6" stroke-width="1.46"/>
<line x1="612.8" y1="443.4" x2="612.8" y2="463" stroke-width="1.34"/>
<path d="M545.2 499 l2 -1.2 l0 -4" stroke-width="1.22"/>
<path d="M563.6 490 l2 -1.2 l0 -4" stroke-width="1.22"/>
<path d="M579.6 481 l2 -1.2 l0 -4" stroke-width="1.22"/>
<path d="M598.8 471 l2 -1.2 l0 -4" stroke-width="1.22"/>
<path d="M522 516 L616.4 465.6 l4 1.6 l0 4 L523.4 524.6 q-4.6 1 -5.8 -2.2 q-.2 -3.6 4.4 -6.4z" stroke-width="1.71" style="fill:#fff"/>
<line x1="519.6" y1="519.6" x2="620.4" y2="467.2" stroke-width="1.22"/>
<line x1="521.6" y1="522" x2="620.4" y2="469.4" stroke-width="1.10"/>
<path d="M521 487.2 L614.8 437.4 L618 441.4 L521.6 493 Z" stroke-width="0.12" style="fill:#fff"/>
<line x1="521" y1="487.2" x2="614.8" y2="437.4" stroke-width="1.71"/>
<line x1="521.6" y1="493" x2="618" y2="441.4" stroke-width="1.71"/>
<line x1="520.6" y1="490.2" x2="616" y2="439.6" stroke-width="1.10"/>
<path d="M521 487.2 q-4 1 -3.6 4 q.8 2.6 4.2 1.8" stroke-width="1.59"/>
<circle cx="518.8" cy="488.2" r="1.8" style="fill:none" stroke-width="1.34"/>
<path d="M517.4 486 l1 -4.4 l1.6 0 l1.2 4.2 M516.2 486.4 q2.4 2 5.4 -.4" stroke-width="1.34"/>
<path d="M535.8 476.6 l1 -4.4 l1.6 0 l1.2 4.2 M534.6 477 q2.4 2 5.4 -.4" stroke-width="1.34"/>
<path d="M554.2 465 l1 -4.4 l1.6 0 l1.2 4.2 M553 465.4 q2.4 2 5.4 -.4" stroke-width="1.34"/>
<path d="M571.8 454.6 l1 -4.4 l1.6 0 l1.2 4.2 M570.6 455 q2.4 2 5.4 -.4" stroke-width="1.34"/>
<path d="M589.4 445 l1 -4.4 l1.6 0 l1.2 4.2 M588.2 445.4 q2.4 2 5.4 -.4" stroke-width="1.34"/>
<path d="M614.8 437.4 l3.2 -3.2 l10.6 -6 q4 -1.2 5.2 1.8 q.4 2.6 -2.2 4 l-3.6 1.8 l0 3.8 l-10 5.4" stroke-width="1.59"/>
<path d="M619 434.6 l.2 -5.2 l1.6 -.4 l.4 5 M617.4 435 q2.4 2.6 6 .4" stroke-width="1.34"/>
<path d="M628 433.4 l3.6 -2" stroke-width="1.22"/>
<path d="M525.4 496 L500.4 499.4 L496.4 501.6 L496.4 513.2 L498.6 515.4 L523 515.4 L525.4 512.6" stroke-width="1.71"/>
<path d="M501.2 499 l0 -8 l1.6 -2.4 M500.4 497 l2.6 -1" stroke-width="1.34"/>
<line x1="568.4" y1="503.4" x2="568.4" y2="519" stroke-width="1.34"/>
<path d="M515.8 545 L615 491.6 L621.4 496.2 L621.8 500.2 L524 556.2 L516 552.4 Z" stroke-width="1.71"/>
<line x1="524" y1="549.4" x2="621.4" y2="496.2" stroke-width="1.34"/>
<line x1="524" y1="549.4" x2="524" y2="556.2" stroke-width="1.34"/>
<line x1="515.8" y1="545" x2="524" y2="549.4" stroke-width="1.34"/>
<path d="M549.3 528q-0.7 -1.4 -0.4 0.8M566.3 517.6l0.2 0.9M563.5 525.8q2.3 0.5 1.1 0.4M561.4 528l2.2 0.3M530.4 537l1.2 1.7M577.7 516.1l0.7 1.5M523.8 542.1l-0.8 1.3M576.5 514.9q-0.4 1.1 1.2 1.7M574.7 520.4q-1.9 0.1 -0.8 0.9M591.9 504.8q1.1 0.7 0 0.9M605.2 499q-0.7 2.1 -1 1.4M612.8 496.3q0.4 2.4 -0.4 0.8M598.9 501.5l0.7 1.8M562.4 520.9q-1.1 -0.8 0.8 0.3M560.4 527.8q2.3 1.5 1.5 0.4M603.2 499.5q2 -0.7 0.4 1.3M534.5 536.1q-0.4 -1.5 1.2 1.1M560.3 523.1q-0.2 1.6 -0.5 2.3M584.2 508.8q0.2 -0.1 -1.9 0.6M556.3 523.7l-0.4 0.8M537.6 534.2l0.4 0.8M531.4 537q0.6 -1 0.3 0.8M543.3 532.6q2.2 0.3 0.4 0.9M563.8 519.3l1.3 0.4M597.9 501.4q-0.3 0.3 2.3 0.2M523.9 545.8q-2 -0.5 -2.2 0.1M538.6 538.5l-0.2 2M545.3 536.6q0.2 1 -2.2 0.1M542.1 534.8l0.4 0.8M546.2 530.3l-1.3 1.9M615.9 499.4l-1.4 0.2M539.1 533.2q2.1 0.5 1.4 1.1M585.3 513.5q2 1.2 1.8 0.5M565.1 519.9q1.4 -0 -1.1 0.8M563 527.4l-0.7 0.8M538.4 540.6q1.5 0.9 -0.8 0.6M554.3 528.6q1 0.3 0.8 0.3M612.2 496.7l-2 0.8M542.4 532.3l1.3 1.2M559 523l-1.3 0.4M579.9 516.8q0.4 1.2 0.6 2.2M520.9 545.7q-1 0.1 0.7 0.4M591.2 508.1q1.6 -0.9 0.8 1.4M572.5 515.4q0.9 1.8 1.3 1.6M609.5 497.5q0.5 0.6 -0.6 1.5M573.1 518.5q0.8 -0.8 -1.9 0.4M578.5 519.1l-0.9 0.5M559.9 521.4q1.5 1.9 0.7 0.6M537 539.5q1.6 -0.7 -0.5 0.9M612.8 494.8q-1.3 0.9 0.1 2.4M568.9 518.6q-1.4 0.6 1.1 0.8M559.2 520.8q-1.3 2.7 0.9 1.6M600 507.1l1.2 0.4M594.2 504.3q2 -0.7 1.4 0.6M538.1 540.2l-0.4 1.9" stroke-width="1.10"/>
<path d="M545.3 542.9l1.6 0.7M547.5 541.8l1.3 1M567.4 527.5l1.6 1.1M546.4 536.6q-0 -1 0.9 1M548.4 541.5l1.6 0.3M588.9 515.3q1.2 0.9 -0.8 1.2M538.6 542.1l-1.5 0.3M617 500.7l-1.3 1.5M558 535.1l1.7 0.8M592.4 515.9q-2.2 -1.2 -2 0.3M574.6 523.8q1.8 -0.9 2 0.5M547.5 536l0.6 1M561.3 534l-1 0.3M540.8 544.7q-1.3 -1.9 -1.1 0.1M597.9 510l1.2 0.7M563.8 529.3l0.4 1.6M532.5 544.6l1.4 0.5M603.5 507.9l-1.3 1.7M525.4 548.7q-0.3 2.6 0.6 1.5M523.5 554.3l1.6 1.2M619.1 501.1l-1.6 0M617.8 499.4l1.6 0.4M569.4 524.8l1.5 0.6M536.9 544.8l-1.2 1.4M562 530.2l0.8 0.7M535.1 547.7l-1 1.3M558.5 532.2q1 1.1 2.1 0.6M543.6 539.2q-2 1.4 -0.1 1.8M613.9 504l-2.1 0.5M553.6 536.9q0.7 0.1 -1.3 0.1M585.6 520.6q-1.7 -0.1 -0.9 0.8M617.4 501.4q1.7 1.2 0.7 1M616.1 502.2l-1.4 0.9M565.8 528.4l-0.2 2M530.2 550.1l0.9 1M604.3 505.7q-0.3 2.3 1.2 1.5M565.1 529.4q-1.9 1.4 -1.9 0.2M581.9 521.1q-0.1 1.5 0.8 1.7M601.2 512.2l-1.8 0.5M582.9 520.2q2.3 1.9 1.4 0.4" stroke-width="1.10"/>
<path d="M715.8 322.6 l2.4 -3.4 l7.2 0 l2.4 3.4 l-1.2 3.4 l-9.6 0z" stroke-width="2.07"/>
<path d="M718.8 326 l0 10 q2.8 3.6 5.6 0 l0 -10 M719.6 329.6 l4 1.4 M719.6 333 l4 1.4" stroke-width="1.71"/>
<line x1="721.6" y1="338.6" x2="721.6" y2="364.2" stroke-width="1.34"/>
<path d="M715.8 350.6 l6 4.6 l7.6 -6.4 q.6 -3 -3.4 -5 l-2.4 .6 l-1 6 M715.8 350.6 l5.6 -2.2" stroke-width="1.71"/>
<path d="M657 417.6 l4 2 l3 -3.4 l6.4 -1.6 l1.4 -2.8 M661 410.8 l.6 5 M658.6 416 l2.8 -1" stroke-width="1.59"/>
<path d="M647.4 453.8 q.4 -4.4 3.2 -3.6 q3 1.4 5.4 -2 q1.6 -2.4 3.2 3.4 q1.2 4.2 3.6 1.2 q1.4 -3 1.2 -8.6 q.4 -4.6 5.6 -5.6 q2 -.6 2.2 -2.6" stroke-width="1.46"/>
<circle cx="673.4" cy="434.4" r="1" style="fill:none" stroke-width="1.22"/>
<path d="M665 451.2 l6 -.4 q1.6 -.6 1.4 -2" stroke-width="1.46"/>
<path d="M582 606 L534.5 569.5 L532.6 568.2 L532.4 640.5 L533.5 642 L582.7 538.2 L584.5 538 L612 561" stroke-width="4.0" style="stroke:#111"/>
<path d="M582 606 L534.5 569.5 L532.6 568.2 L532.4 640.5 L533.5 642 L582.7 538.2 L584.5 538 L612 561" stroke-width="1.6" style="stroke:#fff"/>
<path d="M612 561 L634.6 513 L636 512.4 L636 545" stroke-width="4.0" style="stroke:#111"/>
<path d="M612 561 L634.6 513 L636 512.4 L636 545" stroke-width="1.6" style="stroke:#fff"/>
<path d="M582.7 573.6 L693 509.4 L695.8 511 L695.8 585 L582.7 650.8 Z" stroke-width="1.71" style="fill:#fff"/>
<path d="M577 576 L577 652.5 L582.7 654.6 L582.7 573.6 L580 572.4 L577 576" stroke-width="1.71" style="fill:#fff"/>
<line x1="579.6" y1="577" x2="579.6" y2="652" stroke-width="1.22"/>
<line x1="586" y1="569.6" x2="688" y2="510.4" stroke-width="1.22"/>
<path d="M584 572 l0 3.4 l2.6 -1 l0 -3.6 M638.6 540 l0 4 l2.4 -1.4 l0 -3.8" stroke-width="1.46"/>
<path d="M690 512.4 q.6 -4.4 3.6 -3.4 q2.4 1 1.8 4.4 M691.4 511 l0 6" stroke-width="1.59"/>
<path d="M635.3 587.3q-1 -0.9 -2.7 0.7M641.1 588.4l-1.2 0.9M594.4 628.3q1.5 1.2 -0.8 1.1M650.3 548.2l3 0.1M603.6 581.3l2.8 0.3M677.5 558.4q-0.8 0.4 -1.2 2.6M695.9 583l-3.2 1.7M607.4 581.9l3.7 0.8M679.3 549.7l-4 0.5M607 626.2l0.4 4.5M592.9 616.3l-1.6 1.4M621.4 623.9l-1.2 1.1M595.8 573.4q-0.9 -0.7 -1.4 1.1M664.9 538.2l-0.7 1.4M609.4 581.8l-3.9 0.4M680.8 533q-0.9 3.9 1.3 3.9M608.4 580.4l-1.8 1.5M592.3 576.9q-0.8 0.8 -0.5 2M690.3 547.7l-1 4M601.9 631.4l-1.7 1.1M663.9 595.2q2.2 1 3.6 2.6M596.4 572.1q-2 1.4 -2 0.2M648.2 558.3l3.1 1.9M610.7 601.2l-2.9 1.5M684 532.3l2.1 0.1M590 583.5l1.3 2.9M625.7 617.2q-1.4 -1.3 -3.4 0.2M589.6 574.6q-3.6 1 -3.4 1M636 596.1l2.5 3.9M646.1 593.8q-0.6 2.2 -3.5 1.1M624.8 602.5l-4 1.3M671.7 586.1l-0.8 3.2M646.7 582.4q3.2 1.3 3.3 0.8M627.2 603q-2 2.3 -0.7 2.6M587.2 616.7q0 1.4 0.1 2M684.3 535.8q-0.1 -1.3 2.2 0.1M683.6 563.7l0.8 4.2M656.9 546.1q1.9 1.5 0.8 3.8M646.9 561.1q2.7 1.4 2.6 1.2M687.5 534.8l2.4 1.4M608.2 591l-1.1 2.7M676.7 592.4l0.2 1.4M681 522.3l-1.9 2.5M669.8 526.5l2.5 1.1M674.8 540q0.4 0.8 1.2 0.6M658.1 592.2l-3.5 0.5M634.9 558.7q0.1 -0.9 2.8 0.1M622.3 602.7q-0.5 2.8 -0.2 3.3M685.5 524.3l-3.6 0.8M635.3 591.9q0.3 1.5 -2.4 0.7M688.6 548.4q0.8 1.4 -0.9 1.7M665.2 545q-2 1.9 -4.3 1.4M620.5 620.8l-2.1 1M633.7 586.7l-2.1 1.9M673.8 528.7l-1.4 1.1M669.4 535.4q2.7 1.4 2.6 1.3M689 551.1l-1.5 0.2M643.1 562.2q0.3 1.5 -2.2 2.5M620.2 582.7l-3.8 2M678.2 589.8l-0.2 3.1M643.3 577.6q-0.1 0.2 -0.4 1.2M672.3 563.7l0.1 3.5M645.5 571.3l-4.3 0.6M635.7 553.2q0.3 1.2 0.8 3.9M605.9 608.3q-2.7 -1 -1.6 0.4M608.5 610.2q-0.9 1.9 1.3 2M596.9 604.5q0.4 0.2 1.3 1.3M628.8 587.5q1.4 0.6 1.7 0.9M678.8 565.3q0.3 2 -1.8 0.9M619.7 578.4q0.6 -1.2 -1.9 0.5M609.9 612.7q0.2 1.7 1 1.1M598.2 596.6l-0.7 1.1M660.2 598q0.2 0.1 -1.6 0.2M658.7 545.9l1.5 0.3M645 577.2l-0.4 1.7M608.7 623.7l-4.3 0.1M590.6 639.1l0.5 3.8M635.2 581.9l0.7 3.2M660.3 591.4q0.8 -0.5 2.3 1.5M600.1 602.5q2.9 1.5 4.2 0.2M653.8 563.7q0.8 0.4 -0.9 2.8M686.2 570.2l-3 2.5M684.2 580.5q-1.5 2.4 -2.2 3.1M591.7 595.7l0.1 1.2M652.9 578.8q1 2.1 3.3 2.9M646.1 576q1.6 3.2 1.6 4.3M692.5 513.7l-1.3 3.5M627.2 553.4l2 1.4M612 624.1q0 3.4 -0.5 2.9M652.9 593.3q-0.2 2.1 3.1 0.8M600.4 599.2q-0.5 2.5 2.5 1.5M630.8 586.1l-0.7 2.3M655.1 573.3l2.3 2.8M584.7 592.8q0.4 1.7 1.7 0.2M668.5 532l-4.4 0.2M683.7 547l0.3 4.5M642.8 609.2q0.4 1.5 -1.8 2.1M596.6 612.9l0.3 1.9M641.8 549.7l0.6 3.4M612.4 599.6q2.5 3.7 1 3.7M662.9 545.7q2.5 0.2 4 1.5M614.3 606.7q0.7 0.3 -0.7 3.1M613.6 630.4l-4 1.1M590.3 590.2l0.8 3.2M641.9 546.4q2.2 -0 3.4 0.9M635.8 559.1q-0.8 0.1 1.8 3.3M674 568.7l-1.4 1.3M611.8 616.6q-0 1.8 1.4 3.1M666.2 593.5l0.6 2.4M678.8 525.6l3 0.8M660.1 553.5l-1.1 0.9M655.8 538.3q0.2 0.1 2.1 3M623.2 604.9q0.6 2.4 0.7 1.5M687.5 579.7l0.8 3.9M621.1 584.2l-4.2 0.9M623.3 578.2l1.1 2.3M606.7 603.5q-1 -0.4 -2.4 1.8M667.5 590.5q0.6 0.8 0.8 1M691.3 560.8q0.6 -1.3 -1.2 0.8M593.7 624q-2.1 1.2 -1.4 0.5M654 551.2q2.5 0.8 2.9 2.4M622.1 623.2q0.1 2.1 -1.5 2.5M686.4 546.4q-0.3 2.2 -3 1.8M682.9 586.8q0.6 1 -1.3 2.7M631.9 558.2l-3.1 3.3M602.2 579.1q-1.5 0.3 0.5 2.1M597.4 615l-1.4 1.2M635.3 588.8l-1.3 0.4M603 578.8q0.2 -0 2.7 2.5M615.8 569.8q0.5 0.7 -1.6 1.6M613.9 623.3q0.7 0.2 -2.3 0.6M610.3 565.2l-3.9 0.6M640.7 577.9q0.4 -0.2 3 3.5M637.6 571.7q-2.8 -0.3 -2.9 2.2M620.8 573.7q0.6 -0.3 -2.7 1.2M643.3 552.5q0.9 1.7 -0.9 0.8M593.6 589.7l-1 1.2M636.4 613.1l-1.1 4M671.8 555.6q-1.9 0.4 -1.5 0.4M642.8 553.4l-2 1.1M592.2 591.5l0.4 3.6M659.2 538.7q1.8 1.9 0.9 2.6M586 601.8q-0.8 -1.2 -1.2 1.6M692.2 569.2l2.6 2M624.8 590.1l1.4 1.9M655.9 551l3 2.2M689 555.4q-2.4 -0.5 -1.5 1.8M595 618.4l-1.1 1.4M675.4 565.1l1.9 0.6M595.6 597.1l4.2 1M642 588.8l-3 2.7M619.3 584.6q3.2 1.2 2.6 0.1M655.7 577.7l2.3 0.1M655.1 541q1.9 1.8 1.1 2.7M603 620.9l-2.9 0.9M640.5 552.6q-0.6 3.1 -2.8 3.6M606.2 630.9l-0.7 1.7M611.7 601.2q-1.2 0.8 -1.3 1.9M595.8 637.7q2.2 1.1 3.9 1.8M615.2 624.8q-3.5 1.3 -4 0.1M614.8 621.4q-0.1 1.3 2.3 2.2M590.5 572.3q2.6 0.5 3.8 2.4M657.5 584.9q-1.4 0.3 1.2 3M635 555.1l1.1 2.9M641.5 560.8q-2.1 1.8 -0.5 2.3M600.4 634.9l-0.9 2.7M654.2 584.6l-2.7 2.6M695.1 572.2l-2.3 1.1M646.7 603.7l-0.2 3M681.8 541.2q2.7 0.7 3.6 0.6M667.1 549.4l-0.4 1.4M633.1 583.2q0.3 -0.4 0.4 1.3M617.2 584.6q2.4 1.1 1.1 1M680.3 550.6q-0.5 2.2 -1.6 1.1M593.5 626.5q-0.6 -0.5 2.8 1.1M614.9 580q1.7 -0.2 4.2 0.8M646.3 541.9l4.2 0.4M640.5 611.5l-2.8 0.2M617.5 623.6q-1.5 0.2 -1.8 0.6M603.9 628.7q-2.2 1.5 -1.9 0M590.2 579.7q0.7 1.7 -1.5 1.7M600.2 617.5l-2.7 0.5M609.2 583.3l-1.1 1.5M611 608.3q0.6 1.1 -2 1.5M610.9 582.8l-3.4 0.8M655.8 541.8q-1.2 -1.7 -2.7 0.1M648.7 557l2.8 2.8M614.7 611.7q-0.5 2.3 1.5 1.5M692.4 513.8l0.5 3.7M685.2 551.9q0.7 1.5 2.6 1.7M670.4 561.3q0 3.8 -0.1 4.1M601.8 620.5l2.8 1.6M634.2 602.5l-3 2.4M638.2 559.5l-0.7 2.8M650.4 587.5l-0.9 4.1M600.7 566.3l0 2.7M611 616.5q2.3 1.7 4.2 1M609.8 570.9l0.8 1.1M651.4 573.1l2.2 2.4M673.7 535.6q1.9 1.8 1.2 1.3M590.3 601q-1.4 0.8 0.8 1.8M667 597.8q-0.6 -0.4 2.5 1.2M681.6 528.6l0.7 2.1M594.3 573.6q-3 -1 -3.8 0M644.5 556.2l0.5 4.3M621.5 624.8l-0.5 1.3M654.7 537.4q1.2 3.1 1.7 3.1M636.1 574.3q-2.2 -0 -2.2 1.2M603.4 603.6l1.6 0.9M635.2 566.3q1.8 1.1 0.8 4.5M626.8 555.9l-1.4 2M585.2 587.1q1.7 0 1.7 1.9M624.9 563.9q-0.3 1.9 -2.4 0.5M586 597.4q-0.4 1.8 0.5 1.4M640.8 546l0.7 1.9M599.5 609.4l2.3 0.2M644.5 550.4q0 -0.6 -1.3 1.7M607.4 582.3l-1.6 2M678.7 536.3l1.4 1.9M589.1 573.8q1.3 0.6 -1.2 2.9M656.7 598.3q3.2 2.6 2.8 2.2M608.6 606.4l2.5 0.7M589.9 598.7l1.5 2.5M601.4 594.2q-1 -0.7 0.1 1.8M620.3 584q1.6 1.5 2.8 1.5M586.2 602.3l0.6 1.3M590.4 607.1l-0.7 2.7M610.9 559.7q0 2.5 2 3.8M605.3 596l-1.6 4.2M649 606.1q-1.6 0.8 -2.5 2.2M615.7 617.9q-3 -1 -2.3 0.9M638.9 564l1.9 4.1M605.7 579.5l-1.1 1.7M642.9 568.8q1.2 1.5 2.1 2M647.1 600.1l-2.3 0.2M682.8 540.8q0.7 2.7 -2.2 2.8M601.6 609.3l0.1 3.1M615.7 610.9l-0.2 2M619.8 567.4l-0.1 1.6M592 578.4l-0.9 1.3M667.3 560.4q0 0 3.6 2M639.5 599.4l1.2 3.4M661.9 552.4q2.3 1.9 1.9 3.3M631.2 598.4q-2.3 1.4 -1.5 3.7M657.2 549.7q2.3 2.2 1 0.7M598.3 615.6l0.8 3.2M685.4 587.2l3.6 0.6M590.2 592.3l-3 3.4M620.5 555.5l-0.4 2.8M619.1 613.6l-1.9 1.1M653.5 591.7q-1.1 1.3 -2.5 0.2M598.1 578.6l4.1 1.4M637.4 553.1q-1.1 1 0.7 1.1M614.1 573.8l0.1 2.4M590.7 577l-2.1 0.7M605.1 599.4q-1 -0.3 -1.9 0M671.5 552.9q2 -0.6 3 0.6M689.1 578.2q-0.5 -1.3 -2.7 0M586.3 586.3l1.4 0.5M667.1 549.8l-0.1 1.2M689.7 513.9q0.8 1.6 -0.3 3.9M674.4 582.8l-3.4 3M689.4 543.6q-2.5 1.1 -1.2 1.6M608.4 588.1q0.1 2.1 1.4 3.1M624.1 573.3l-2.2 0.7M619.5 607.1q2.2 -0.1 2.9 2.3M595 578.4l1.2 2.4M638.6 571.8q-0.4 2.8 1.6 2.6M617.3 609.3l4.3 1.5M689.5 528.9l1 3.5M615.3 607.4l-2.3 0.4M622 623.9l3 1.5M655.7 548.4q-0.2 2 -1.5 3.9M648 547.3l-3.1 1.7M657 562.9q0.6 1 0.7 1.9M587.3 617.8q2 0.2 0.5 3.2M636.6 616.9q1.2 0.4 -1.5 1.7M680.9 529.9l-2.9 0.1M678.7 568.8q-1.9 2.4 -3.9 0.8M591.8 634.1q-0.8 1 -1.3 1.6M678.2 533.8l2.2 2.6M645.3 596.4q1.4 2.1 0.1 2M645.4 605.8l-1.4 1M594.1 570.5q-0.6 0.6 1.9 3.7M627.7 610.6l-1.5 4M693.6 526.1q-2 2.6 -1.7 3.8M630.8 548.8q-0.3 1.4 1.1 2M658.9 544.2l3.3 1.4M599.8 575.9l-3.2 0.6M606.7 633.9l-2.1 3.1M616.7 585l3 1.5M674.2 551.8q-0.4 2.3 0.4 2.9M608.6 601.3l2.6 3.3M678 568.1l0.6 4.3M665.9 571.2l0.2 1.4M616.1 589.8q-0.4 -0.9 -2.2 0.3M630.3 559.1l-1.9 0.7M623.2 612.8q-3 2.3 -2.9 1.5M593 595q0.1 3.3 1.4 3.4M689 516.1l-1.1 2.6M636.1 567.8q1.1 3.4 -1.7 2.8M628.5 609.1q-2.5 1.4 -1.6 3.2M626.5 596.4l3.5 2.9M624.1 561.1l1.2 3.5M603.1 610.6l-1.4 3.4M674.2 576.4l-1.2 1M587.8 636.9l-4.2 0.7M622.8 591.6q-0.9 0.8 -0.2 1.6M597.1 608.9q-0.1 1.4 1.4 0.6M610.3 590.1l1.9 0.3M646.2 573.3q-2.1 2.2 -1.4 0.7M642.6 570q-1.1 -0 -1.4 3.9M602.2 624.1l-2.4 2.7M641.4 544q1.6 1.8 2.1 0.8M588.1 603l2 0.5M685.2 539.5q1.8 2 0.1 3.4M639 608.2q-0.6 0.5 0.7 2.1M630.8 581.9l1.1 2.4M588 633.1q1.1 -0.8 2.9 0.6M594.1 595.4l1.6 2.4M665.4 563.3q-0.7 0.4 2.6 0.1M690.3 540l-0.7 2.3M650.4 578.5q1.8 -0.6 1.6 2.4M592.9 586.9l2.6 2.9M677.7 548.8l2.2 2.7M692.2 572q1.7 1.5 1.2 2M588.6 627.5q3.4 0.8 3.3 0.5M587.6 641.2l-2.3 2.2M666.5 557.3q-2.9 3 -2.4 3.8M632.1 600.9l1 2.5" stroke-width="1.10"/>
<path d="M636.6 592.9l-0.4 0.6M625.8 571.6q-0.2 1 -1 0.6M599.4 598.3l1.2 0.6M674.3 529l-0.5 0.7M676 523.7q-1 2.1 1.3 0.3M688.1 523.6l0.2 0.7M652.6 548l-0.4 0.5M673.8 552.4l0.3 1M626.8 553.3q0.2 -0.1 -0.9 1M624.3 602.4l-0.4 0.6M624.5 589.5l-0.8 0.6M674.7 554.2l-0 0.8M626.4 606.8l1 0.3M660.3 534.1q-1.5 0.2 0.6 0.7M607 582.4l0.1 1.4M689.7 527.2l-0.9 0.2M666.3 593.9q-0.2 -1 0.8 0M585.2 577.7q-0.2 -1.3 -0.5 1.3M620.1 612.1l-1 0.6M642.3 576.5q1.4 -1 -0.3 0.7M615.8 620q1.2 1.3 0.9 1M607.2 582.6q-1.1 2 0.8 0.8M630.2 566q0.6 2.4 0.3 1.4M690.1 568.8q1.3 0.8 0.3 1M622.7 580.1l-0.7 0.8M663 595.4q-0.4 1.5 -1.1 0.8M625.6 558.6q0.9 0.5 0.4 0.8M652.5 544.9l-0.1 1.2M610.8 589.3l0.6 1M594.3 592.4q1.4 -0 -0.7 1M587.2 609.1q-0.6 -0.7 0.1 0.7M619.8 623.3l0.9 0M605.7 594.1q1.3 -0.9 1 0.9M635.6 590l-0.7 0.4M678.1 581q-0 1 0.8 0.7M657.4 603.2l-0.2 1.1M664.7 552.2l0 0.9M599 583.3l-0.1 0.8M673.1 545.3l-1.1 0.2M680.3 584.5q1.6 0.7 0.4 0.6M670.6 555.4l-0.3 0.8M625.7 579l0.4 1.2M607.1 581.3l-1 0.1M676.7 585.3q-1.2 -1.2 -0.8 0.5M679.1 580.3l1 0.8M617.6 557.2q-0.5 -1.1 0.6 0.4M604.8 586.6l-1 0.5M659.5 570.5q1.3 0.5 0.2 1M654.3 568.8l-0.4 0.8M640.6 594.1l0.9 1M679 571.1l-1.1 0.2M629.2 593.6l-0.9 0.9M590.6 579.8l0.6 0.2M611.8 567.9q1.5 1.4 -0.6 0.9M688 517.3l1 0.9M606.7 617.1l0.2 1M610.8 566.3q0.8 2.4 -0.4 1.3M624.4 574.4q-2.5 -1 -1 0.3M637.8 597.7l-1 0.6M626.7 613.9l-1 0M652.7 574.5l0.3 0.7M651.5 545.6q-1.1 0.3 -0.2 1.4M595.5 622.5q0.2 0.6 -0.3 0.7M625.4 573.7l0.6 1.3M639 577l0.8 0.5M619.2 581.4l0.6 1.2M620.5 601.9q-1.5 1.2 0.3 1M595.7 587.3q-1.9 0.1 -1.2 0.8M615 618.5q0.8 0.6 0.6 0.5M636.9 614l0.2 1.3M635.7 571.9l-0.8 0.9M642.1 594.3q0.9 -0 -0 1.1M618.3 558.1l-1.2 0.4M690.4 578.8l1.1 0.6M618.5 574.4l0.2 0.6M596.6 590.7q-0.2 0.1 0.6 0.3M650.1 604.7q2 1.9 0.7 0.3M641.7 568.5q0.8 1.5 1.1 0.7M613.1 597.9q-1.6 1.5 -0.7 0.2M676.6 568.6l0.1 0.6M622.9 581.9q0.9 1.5 1.3 0.3M683 557.8l-0.2 1.3M683.5 520.3q1.6 -0.8 -0.8 0.6M629.4 607.4q0.4 1.8 -0.7 0.7M655.5 560.6l0.4 0.5M588.2 643.8l1 0.5M690.1 552.4q2.4 -0.8 1.1 0.7M628.1 597.7q1.3 1.7 0.7 0.8M667.1 548.5l-0.7 0.7M586.1 619.5l0.3 0.6M629.8 572.6q1.8 2.1 -0.2 1M616.6 619.4l0.7 1.1M619.4 622.6l-0.6 1M597.1 637.7l0.7 0.2M675.1 572.7l-1.2 0M683.8 540.7q1.3 0 1.3 0.2M606.1 578.8l0.7 0.1M683.1 585.3l-0.1 1.1M670.3 577.3q-0.3 -1.3 -1.3 0.1M635.7 578.1l0.7 0.4M603 609.4q0.4 0.3 0.7 1.2M627.8 565.5q-0.1 -1.3 -1.3 0.2M643.3 553.2l0.6 0.9M609.7 613.3l0.1 1.3M594 637.8q-1.6 2.5 -0.4 1.1M638.4 609.8q-0.6 1.6 0.7 0.4M612.3 565q1.9 0.9 0.7 0.4M631.2 551.7l-0.6 0.4M631.8 610.4q-1.7 1.1 0.5 0.4M599.1 588.4q1.7 0.4 0.8 0.6M593.3 582.7q-1.5 -0.2 0.7 1M689.3 525.7q-0.6 1 0.8 0.2M596.7 615.8q2 0 0.9 0.5M693.2 542.4q-2.2 -0.8 -1.3 0.2M660.5 594.9l0.8 0.9M584.1 581.9q1.1 1.5 0.8 0M685.3 545.5q-2 2 -0.6 0.9M601.6 597.8q-1.1 -0.3 -0.7 1M664.4 533l-0.8 0.3M618.2 607.5l0.6 0.4M598.8 612.8l-0.6 0M623 575.5l0.3 0.6M612.7 563.1q2.5 1.5 1.2 0.6M664.7 545.2q1.5 -1.2 1.3 0.5M671 564q0.9 -1.5 0.7 0.2M592.7 624.8l0.4 0.9M603.6 600.3l0.2 0.7M632.5 555.8l1 0.2M665.5 583.9l-0.8 1.1M629.9 579l1.3 0.3M692.9 561.9q1.5 1.1 -0.6 0M648 585.2q0.2 0.3 0.1 1.3M653.9 578.2l-1.2 0.2M663.3 546.5q-1.7 -0.9 0.1 1M603.7 609q0.2 -0.8 0.9 0.5M649.8 567.3q-0.5 2.3 0.1 0.7M639.5 593.4l-1.3 0.3M686.7 524.4l-1.2 0.2M662.8 570.4l0.2 1.1M656 584.2q2 0.2 1.1 0M643.1 551.7l1.1 0.8M683 527.1l0.4 1M633.3 604.8l0.3 0.7M688.6 522.8l-0.6 1M645.3 589.7q-0.9 0.2 0.6 0.5M634.8 602.9q-0.4 -1.4 -1.1 0.5M647.6 570.4l-0.6 0.6M626.4 611l0 1.1M608.4 580.8q-0.7 -1.6 0 0.7M610.7 596.4l-0.4 1.2M691.3 575l-0.1 1.1M601 567.2l-1.3 0.2M650.6 571.8q-1.5 0.6 -0.4 0.6M652.9 597.1q-0.6 0.6 -0.3 0.7M672.1 595.1l0.9 0.3M678 550.5l-1.2 0.3M667.9 576.1l0.8 0.3M675.4 551q-1.1 1.2 0.7 1M609.7 618.2q-1.9 1.8 -0.8 0.9M596.6 610.9l-0.8 0.1M658.4 579.1q1.1 -0.9 0.5 0.8M659.3 593.4l-0.4 1.2M615.8 619.9l0.5 0.5M681 578.6l1 0.7M652.5 536.7q0.4 -0.9 -0.3 1.2M634.3 602.8q1.5 1.5 0.5 1.1M618.1 615.5q-0.7 0.6 -0.8 0.5M619.4 588.2q0.8 0.6 0.7 1.1M635.3 558.6l-0.4 0.9M640.7 552.3l-0.6 1.1" stroke-width="1.34"/>
<line x1="582.7" y1="650.8" x2="695.8" y2="585" stroke-width="2.07"/>
<line x1="695.8" y1="511" x2="695.8" y2="585" stroke-width="1.83"/>
<line x1="641.6" y1="615.4" x2="663" y2="625"/>
<line x1="664.4" y1="525.2" x2="697" y2="543.4" stroke-width="1.22"/>
<line x1="697" y1="543.4" x2="742" y2="569.6"/>
<path d="M138 315 L171 296.6 L176.3 300.2 L176.3 415.9 L141.4 436.1 L137.2 432.9 Z" stroke-width="1.83"/>
<line x1="137.6" y1="315" x2="137.2" y2="432.9" stroke-width="2.68"/>
<line x1="138" y1="315" x2="171" y2="296.6" stroke-width="2.32"/>
<path d="M164.8 304.6l1.3 0.9M161.4 303.5q0.6 1.3 -0.5 0.5M157.1 309.9q1.5 1 -0.7 0M154.9 308.3q1 -1.3 -0.7 0.1M150.9 310q1.6 -0.3 -0.1 1M167.7 299.5q1.9 2.2 1.2 0.4M168.4 300.3l-1.1 1.1M155.2 306.9q2.4 -1.2 1 0.5M159.8 308.7l-0.8 0.8M160.8 304.4l-0.5 1.1M166.3 301.7l0.1 1.4M147.2 313l0.3 1.4M151.2 308.6l0.1 0.9M164.6 301.9q-0.5 0.3 -1.3 0M153.5 309l0.7 0.6M154 311.5l-1 0.7" stroke-width="1.10"/>
<path d="M138 315 L142.3 318.4 L176.3 300.2" stroke-width="1.34"/>
<line x1="142.3" y1="318.4" x2="141.6" y2="435.6" stroke-width="1.46"/>
<line x1="142" y1="328" x2="142" y2="338" stroke-width="2.68"/>
<line x1="141.4" y1="375" x2="141.4" y2="400" stroke-width="2.68"/>
<path d="M149 393.9l-1.1 2.5M168.6 395.7l-0.1 2.8M143.6 361q-1.3 -0.4 -0.4 1.4M145.7 430.9q-3.2 0.8 -2.7 2.9M160.4 323.9l-2.4 0.4M170.7 319.3q-1.9 0.2 -2.6 0.6M150.3 320.1q-2.1 2.3 -1.8 0.8M172.9 388.3q-2.6 0.9 -2.2 2.1M171.7 327.6l-3.9 1M154.2 362.4l1.5 4.1M145.7 328l-2.8 3.4M159.6 372.8q-0.4 1.2 -1.3 1.4M148.2 333.9l1.9 3.7M161.7 343.7q1.8 -0.3 1.3 0.4M167.1 383.5l-4.1 1.3M175.4 408.9l-1.1 3.9M156.1 340.8l-1.6 0.7M168.8 391.1l0.2 3.9M151.4 347.2l0.4 1.7M155.7 415.6l-3.6 0.2M151.3 422.3l-0.3 3.5M151.5 409.9q-1.9 1.5 -3.2 2.4M170.5 338.7q-2.1 1.8 -0.2 2.1M174.2 304.3q-0.1 0.6 -0.9 3.1M156.9 421l-1.6 0.5M146.3 320q0.8 -0.7 0.3 1.6M160.5 346l0 1.9M150.1 358.1l-1.8 2.3M167.3 404.9l-2.8 2.4M158.8 318.2q-1.6 1.4 -1.3 1.2M153.1 317.9q-0.4 1 0.7 2.1M159.2 417q2.4 2.3 3 1M153.2 392.1l-0.2 3M168.7 414.8q-1.1 -0.7 1 2M146.4 410q-2.9 1.5 -1.9 1.8M157 369.4l0.8 2.3M143.6 366.9q2.1 1 2.5 2.4M150.8 357.6q-1.6 1.5 0.1 3.2M160.6 391.7q-0.7 1.3 -3.5 1.2M171.2 382.8q-1 1.3 -1.1 1.7M170.2 414.1l-1.2 0M151.9 357.9l2.7 1.3M153.7 420.5l-1.8 1.9M172.9 381.8q1.6 -0.3 1.8 1.4M172.3 338.1l2.7 2.8M165.4 329.4l-0.6 2M173 354.5l0.6 3.1M148.3 359.6q-1.3 1.9 1.2 1.4M171.7 382.8l2.8 0.2M162.2 387.9q-1.2 -0.3 0.9 0.8M157.3 412.3q1.6 0.9 0.6 1.5M144.5 338.6l0.9 2.8M170.8 400.5l-3.9 0.9M163.6 318.1q-3 -1.2 -3.4 1.1M169.8 372.7q-1.1 0.3 -1 2.5M155.4 345.4l-1.6 3.7M145.9 375.8l-1 1.5M145.3 321q-1.3 0.1 0.1 3.4M172.5 362.6q0.6 -0.1 1 3.3M168.6 329.3q1.7 -1.2 2.3 0.3M164.2 362.2q3.3 1.7 3.4 1.9M151.5 403.7q0.5 -0 -2.8 0.9M173.8 408.6l-1 0.7M164 376.5l-2.4 2.3M173.9 363.7q-0.6 1.4 -1.7 0.7M166.5 405.9l0.6 1.3M149.9 377.2l-2 1.3M144.3 366.6q-1.3 -1 -0.3 1.2M174.2 362.1l-2.7 0.9M151.7 361.9q-0.2 0.7 -1.6 3.3M157 354q-0.1 -0.8 0.1 2M171 370.6q0.5 0.5 -2.9 2.1M156.7 311.9q1.2 0.1 -1.5 2.7M151.6 398.3l-2.3 1.5M155 405.6l0 2.7M164.4 374.8q-1.6 0.6 -2.3 3.3M169.1 395.4q0.7 -1.5 -1.8 0.4M151.3 385.3l3.5 1.7M164.4 340.7l1.4 1.2M166.7 331q-1.2 -0.3 -1.3 1.9M148.7 322.6l-1.5 2.1M169.6 378.2q1.5 0.1 3.5 0.2M174.7 343.7l-1.3 2.9M154.8 398q-1.7 2.4 -1.1 2.4M143.7 391.5q0.5 -0.7 0.3 1.9M159.9 329.2l-1.8 1.3M149.6 320.8q2.1 -0.6 1.4 0.9M145.6 377.9q-0 1.2 2.3 0.9M159.4 318.8l2.3 2.2M150.9 380.8q-3.2 -0 -2.4 1.5M152.5 416l1.6 3.3M160.2 410.9l-2.3 2M174.7 312.4q-1.7 -1.1 -3.7 0.4M154.7 387.9q-2.4 0.2 -1.2 2.2M147.7 353.8l-2.9 2.2M153.9 325.8l-1.3 2.3M154.7 409.6q0.3 1.9 0.8 3.3M155 334.7l0 2.2M148.8 419.2l0.4 1.8M149.1 413.1l1.6 2.9M165 358.2l-2 2.1M153.6 381.3l-2.9 1.7M154.4 414.6q0.4 1.1 -1.5 0.8M172.5 400.5l3.1 3.1M154.2 423.1q0.2 -0.3 2.1 1.2M169.9 373.7q0.3 2.6 -2.6 2.7M175.4 357.9q-0.2 0.9 -1.7 2.3M163.4 341l2.2 1M143.3 328.2l0.5 3.6M163.7 320.1l-0.1 2.1M165.4 352.4l1.2 3.3M156.2 392.1l-3.8 2.1M164.4 342.6l-2.3 3.1M153.4 418.4q-0.2 2.6 1.4 2.9M142.4 357.6l2 1.2M142.6 409.7q2.7 2.2 2.6 1.6M163.7 327.5q-1.3 -0.5 -1.1 1M151.8 359.6q-0.6 0.2 -3.1 2.4M153.2 346.6q-1.2 3.8 0.8 3.9M173.6 354.2l-2.1 3.1M164.7 419.2l-3.8 1.5M166.9 362q-2.3 1.5 -1.7 0.5M165.9 310q1 -1.1 0.9 1.4M173.3 410.5l0.6 3M162.3 352.4l0.7 3.5M152.1 400.6q-0.8 0.1 1.1 0.9M152.7 342.5l1.3 2.6M159.5 315.9l1.8 0.5M155.7 345.9l-2.9 1.6M167 382.4q1 2.3 1.7 2.7M162.3 412.4q1.2 2.9 2.3 2.5M145 398.9l2.4 2.7M159 337.1q1.9 -0.1 2.7 2.9M151.3 423.5q1.2 1.1 2.3 1.7M173.3 390.1l1.9 1.7M163.9 382.8l2.3 2.5M143.5 351.6q2.3 2.6 0.7 1.7M163.3 404.1q-1.7 1 0.1 3.1M155.1 351.1q2 -0.4 0.3 1.3M150 353.8q-2.1 1 -1.5 1.1M164.2 382.7q2 2 4.1 1.1M161.9 326.5l1.2 3.6M143.5 336.8q1.1 0.5 2.6 1.7M174.5 340.9q-1.8 -0.8 -1 1.6M153.5 325.3q1.8 1.4 1.2 3.1M145.3 399.1q0.6 0.7 1.1 3.4M154.3 369.3l0.8 1.3M165.6 399.2q-1.8 1.9 -3 2.7M145.5 408.1l-1.2 1.6M151.4 403.3q1.5 1.3 0.8 3.6M154.9 420.7l-1.7 0.5M167.6 390.4q-0.8 0.1 1.7 2M165.7 410.5q0.6 -0.5 -2.7 0.4M151.2 344.6q1.1 -0.7 -1.3 1M164.7 368.5l-2.8 0.3M170.4 388l3.4 1.7M174.2 410.2l0.1 2.5M150.7 337.3l3.1 1.8M163.4 375.8q-1.9 -0.5 -2 2.2M164 339.9q-0.7 -0.9 -4.1 0.2M158.2 353.5l1.1 2.1M164.3 310.4q0.1 1.2 -0.2 1.6M154.5 392.6q-2.2 2.1 -2.5 3.2M143.7 401.9l2 2.9M161.4 328.3q0.6 0.2 2 0.2M167.3 415.2q2.3 0.6 2.3 2.5M157.4 399.2q2.4 -0 1.9 2M163.4 332q1.8 2.4 2.4 1.3M148.4 376q-1.4 0.1 0.1 2M144.9 391.2q0.1 -0.4 -0.9 1.7M172.2 397.9l2.2 3.3M155.5 360.9l-2.1 0.3M148.1 408l3.3 2.1M159.8 408.2q1.3 0.7 1.9 2.1M163.4 343.7q0.8 1.5 1.1 0.6" stroke-width="1.04"/>
<path d="M173.2 318.9l1.4 0.1M146.7 391l0.6 1.2M174.1 338.4q1.5 1.5 -0.4 1.3M144.7 418.6l-0.2 0.8M171 370.6q-0.3 0.9 -1.2 0.2M163.3 338.2q1.4 0.7 -0.8 0.1M147.8 410.6l-0.4 0.6M160.8 313.9q-0.9 0.8 -1 0.2M172.3 338l0.4 1M162.2 370.2q-1.5 2.5 0.2 1.1M154.4 361.8q0.2 0.2 0.4 1.3M145.7 419.5l0.9 0.5M153.5 354.2q1.4 0.8 0.5 0.4M149.2 394.8q2.1 -0.1 0.9 0.2M170.3 360.7q0.9 0.4 -0.1 1.1M166.2 379.2q0.7 2.3 0.5 1.1M144 375.7l-0.4 0.8M165.2 356.5q-0.4 -1.3 0.4 0.5M150.6 344.6l-0.7 0.3M146 371q2 1.6 0.7 0.5M144.8 361.7l-0.6 0.3M159.4 354l-0.8 0.8M151.1 341.2q-1.2 1.8 0.4 0.5M164 314.3l0 1.1M159.1 314.4q1.7 1.6 -0.4 0.4M150.3 376q1.7 -1.8 0.8 0.4M154.8 385.3q0.7 -0.2 1.1 0.7M170 362.6l0.7 0.5M170.4 362.2q-1.6 0.1 -0.7 1M171 389.9l0.4 1.1M148.5 322.1q2 -1 0.3 0.7M161.1 407.3q-2.1 2.3 -0.3 1M165.4 398.7l-0.6 0.4M149.6 373.7l-1.3 0.3M162.7 391.9q1.3 2.2 0.7 1.2M168.6 379.1l0.4 0.7M144.7 423.7l0.4 0.5M146.4 368.1l0.4 0.6M156.9 352.3q1.2 2.1 -0.7 0.5M155.9 317.6l-1 0.2M147.3 344.2l0.4 0.6M174.6 394.7q0.5 -1.6 0.9 0.3M154.7 356.7l-1 0.3M163.8 313.7q-0.9 -0.3 -0.7 1M143.4 328.4q-0.7 0.1 0.9 0.4M162.9 379.8q-0.1 -1 1.3 0.1M165 412.7q-1.1 0 0.4 0.8M172.9 366.3q0.8 -0.9 -0.7 0.4M160.3 387.1l-0.2 1.1M161.3 349.9q-0 -0.8 -0.7 0.5M156.9 326.7q-1 1.3 -0.4 0.5M147.5 394.4l-0.5 0.6M154.9 386.5l0.4 0.4M169.6 323.4l-1 0.2M146.5 359.6l0.1 0.7M159.2 339.2q0.4 -0.6 0.2 0.9M148.5 414l0.7 0.1M170.2 366.3l-1.1 0.3M156.5 394.7l0.9 0.8M144.7 357.6q1.6 0.4 -0.1 0.7M172.2 381.4q1.6 0.2 -0.1 0.7M155.9 320.7l-0.5 1.2M152.7 383.9l-0.6 0.4M164.2 313q-0.5 -1.1 -0.7 0.5M143.6 331.6q0.9 -0.3 0.8 0.9M164.3 390.6l0.3 0.6M150.4 336.8q-0.8 1.9 0.2 0.6M167.5 307.9q0.9 0.1 -1.2 0.4M143.9 335.6q-1.2 -0.1 0.7 1.1M146.7 343.2l0.4 0.8M164.8 335.5l-0.9 0.3M167.5 345.1l0.5 0.5M150.4 398.5l0.5 1M145.4 352.4l0.4 1.3M149.7 333.1q-0.6 -1.3 1 1M158.3 377.2q-1.6 1 0.9 0.3M165.1 396.2q-1.4 0.5 0 1M150.6 351.8l0.7 0.1M160.7 336.5l-0.2 1M147.6 384.6q0 -1.4 -0.6 1M152.8 404.8l0.3 0.6M169.5 316.1q0 -0.8 0.9 0.3M167.5 316.6q1.8 -0.3 0.6 0.9M151.4 356.1q2.3 -0.8 0.8 0.3M146.1 402.4l-1.2 0.1M167.3 392.3q0.8 -0.7 -0.7 0.7M156.9 321.7l0.5 1.2M159.5 398.6l0.9 0.2M159.6 388.5q0.1 0.3 -1.2 0.2M174.9 369.4l-0.3 0.9M168.2 348.4q0.3 0.5 -1.1 0.4M155.4 314.7q0.7 -1.3 -0.6 1M164.9 338.8l0.4 1.2M158 317.1l0.6 0.4M159.7 315.9q2.2 1.1 0.6 0.2" stroke-width="1.22"/>
<path d="M141.1 427.8q-0.6 0.2 -0.6 0.2M138.6 338.9l0.1 0.8M138.7 326.5q0.6 -0.2 -0.6 0.8M138.3 406.3q1.7 0.1 -0.3 1.2M140.8 360.5l-0.3 1.2M138.8 371.1l-0.8 0.9M140 339.2q-0.8 -1.3 0.8 0.5M138.3 321.3q-0.3 -0.1 0.8 0.9M139.6 352.3l-0.9 0.7M138.7 406.5l-0.9 1.1M139.8 422.9l-0.4 1.5M141.4 325.5q0.8 2.2 0.2 0.6M140.5 426.9q-0.7 2.7 -0.2 1.6M139 340l1 0.3M140.5 427.9q-1 0.4 0.5 0.4M140.7 347.3l0.4 1.5M139.6 419.7q-1 1.2 -1.2 0.8M140.3 392l0.7 0.6M140.6 382l-0.2 1.4M140.4 356l-0.3 1.4M141.5 327.8l-0.2 1.1M139.8 371.7l0.2 1.3M138.5 407.6l1.3 0.6M140.4 338l0.2 1M140.7 373.3q-0.2 -0.3 -0.6 0.9M141.9 328.9l-1.4 0.6M140.6 395.6l-0.3 0.8M139.8 352.4l-0.9 0.1M139.2 411l0.1 1.2M138.9 327.6q0.3 -1.3 0.7 0.5M139.9 331.5q-1.1 1.9 -0.2 1M138.7 429.9q-1 -0.3 -0.3 0.6M137.7 413.1l1.3 0.4M139.7 352.1q-0.6 2.1 1.5 0.4M140.6 340.2l1.2 0.1M140.8 372.1q0.9 0.9 -0.7 0.9M139.8 355.8q-0.9 -0.2 0.6 0.3M139.1 388.1l-0.2 1.5M139.7 392l-1.1 1.1M141 431.6l-0.7 0" stroke-width="1.22"/>
<path d="M663.8 617.6 L663.8 739.4 L665.4 740.6 L829.4 650.6 L829.4 537.4 L817.6 527.6 L663.8 617.6" stroke-width="2.07" style="fill:#fff"/>
<line x1="663.8" y1="617.6" x2="663.8" y2="739.4" stroke-width="2.81"/>
<line x1="666.4" y1="618.5" x2="666.4" y2="738.6" stroke-width="1.22"/>
<path d="M688 603.6 q.6 -4.6 4 -5.4 l12 -7 q3 0 3 3.2" stroke-width="1.59"/>
<path d="M783 548.3 q.6 -4.6 4 -5.4 l12 -7 q3 0 3 3.2" stroke-width="1.59"/>
<circle cx="692.6" cy="603.4" r="1.1" style="fill:none" stroke-width="1.22"/>
<line x1="667.8" y1="622.3" x2="824.2" y2="532.8" stroke-width="1.59"/>
<line x1="670.6" y1="625.6" x2="828.8" y2="536.1" stroke-width="1.59"/>
<line x1="671.8" y1="629" x2="827.6" y2="540.1" stroke-width="1.59"/>
<line x1="671.8" y1="621.4" x2="671.8" y2="737" stroke-width="1.59"/>
<line x1="675" y1="624" x2="675" y2="735.4" stroke-width="1.22"/>
<path d="M671.8 621.4 l8.8 5" stroke-width="1.46"/>
<line x1="668" y1="643" x2="679" y2="642.5" stroke-width="1.34"/>
<line x1="668" y1="680.5" x2="679" y2="680" stroke-width="1.34"/>
<line x1="668" y1="695.5" x2="679" y2="695" stroke-width="1.34"/>
<line x1="667.6" y1="625" x2="667.6" y2="736" stroke-width="0.9" stroke-dasharray="16 3 30 4 22 3"/>
<line x1="681.4" y1="622.2" x2="681.4" y2="654.3" stroke-width="1.46"/>
<line x1="681.4" y1="627.3" x2="825.6" y2="547.3" stroke-width="1.71"/>
<line x1="681.4" y1="631.4" x2="825.6" y2="552.2" stroke-width="1.71"/>
<line x1="681.4" y1="635.6" x2="825.6" y2="557.2" stroke-width="1.71"/>
<line x1="681.4" y1="639.7" x2="825.6" y2="562.1" stroke-width="1.71"/>
<line x1="681.4" y1="643.9" x2="825.6" y2="567.1" stroke-width="1.71"/>
<line x1="681.4" y1="647.6" x2="825.6" y2="571.5" stroke-width="1.71"/>
<line x1="681.4" y1="651.7" x2="825.6" y2="576.5" stroke-width="1.71"/>
<line x1="825.6" y1="543.8" x2="825.6" y2="571.6" stroke-width="1.59"/>
<path d="M825.6 571.6 L829.4 570.6" stroke-width="1.46"/>
<line x1="710.2" y1="611.2" x2="710.2" y2="637.3" stroke-width="2.93"/>
<line x1="706.8" y1="614.1" x2="706.8" y2="638.5" stroke-width="1.10"/>
<line x1="706.8" y1="615.4" x2="709.2" y2="614" stroke-width="1.59"/>
<line x1="706.8" y1="619.7" x2="709.2" y2="618.4" stroke-width="1.59"/>
<line x1="706.8" y1="623.9" x2="709.2" y2="622.6" stroke-width="1.59"/>
<line x1="706.8" y1="628.2" x2="709.2" y2="626.9" stroke-width="1.59"/>
<line x1="706.8" y1="632.3" x2="709.2" y2="631" stroke-width="1.59"/>
<line x1="706.8" y1="636.3" x2="709.2" y2="635.1" stroke-width="1.59"/>
<line x1="738" y1="595.7" x2="738" y2="622.8" stroke-width="2.93"/>
<line x1="734.6" y1="598.7" x2="734.6" y2="624" stroke-width="1.10"/>
<line x1="734.6" y1="600" x2="737" y2="598.7" stroke-width="1.59"/>
<line x1="734.6" y1="604.5" x2="737" y2="603.2" stroke-width="1.59"/>
<line x1="734.6" y1="608.8" x2="737" y2="607.5" stroke-width="1.59"/>
<line x1="734.6" y1="613.3" x2="737" y2="612" stroke-width="1.59"/>
<line x1="734.6" y1="617.5" x2="737" y2="616.3" stroke-width="1.59"/>
<line x1="734.6" y1="621.8" x2="737" y2="620.5" stroke-width="1.59"/>
<line x1="765.6" y1="580.4" x2="765.6" y2="608.4" stroke-width="2.93"/>
<line x1="762.2" y1="583.4" x2="762.2" y2="609.6" stroke-width="1.10"/>
<line x1="762.2" y1="584.8" x2="764.6" y2="583.4" stroke-width="1.59"/>
<line x1="762.2" y1="589.4" x2="764.6" y2="588.1" stroke-width="1.59"/>
<line x1="762.2" y1="593.9" x2="764.6" y2="592.6" stroke-width="1.59"/>
<line x1="762.2" y1="598.5" x2="764.6" y2="597.3" stroke-width="1.59"/>
<line x1="762.2" y1="602.9" x2="764.6" y2="601.6" stroke-width="1.59"/>
<line x1="762.2" y1="607.3" x2="764.6" y2="606" stroke-width="1.59"/>
<line x1="793.4" y1="565" x2="793.4" y2="593.9" stroke-width="2.93"/>
<line x1="790" y1="568" x2="790" y2="595.1" stroke-width="1.10"/>
<line x1="790" y1="569.4" x2="792.4" y2="568.1" stroke-width="1.59"/>
<line x1="790" y1="574.2" x2="792.4" y2="572.9" stroke-width="1.59"/>
<line x1="790" y1="578.9" x2="792.4" y2="577.6" stroke-width="1.59"/>
<line x1="790" y1="583.7" x2="792.4" y2="582.4" stroke-width="1.59"/>
<line x1="790" y1="588.2" x2="792.4" y2="586.9" stroke-width="1.59"/>
<line x1="790" y1="592.7" x2="792.4" y2="591.4" stroke-width="1.59"/>
<line x1="673" y1="661" x2="829.4" y2="580.9" stroke-width="1.71"/>
<line x1="676" y1="657" x2="829.4" y2="577.5" stroke-width="1.46"/>
<line x1="672" y1="733.5" x2="826" y2="650.2" stroke-width="1.22"/>
<path d="M679.8 663.4 L705.2 657.8 L705.2 720.3 L679.8 732.2 Z" stroke-width="1.59"/>
<path d="M683.8 667.2 L701.8 659.6 L701.8 713.9 L683.8 723.4 Z" stroke-width="1.71"/>
<line x1="707.6" y1="658" x2="707.6" y2="719.4" stroke-width="1.34"/>
<line x1="710" y1="655.2" x2="710" y2="709.7" stroke-width="2.20"/>
<line x1="721.1" y1="648.9" x2="721.1" y2="703.3" stroke-width="2.20"/>
<line x1="732.2" y1="642.5" x2="732.2" y2="696.9" stroke-width="2.20"/>
<line x1="743.3" y1="636.2" x2="743.3" y2="690.5" stroke-width="2.20"/>
<line x1="754.4" y1="629.9" x2="754.4" y2="684.2" stroke-width="2.20"/>
<line x1="765.5" y1="623.6" x2="765.5" y2="677.8" stroke-width="2.20"/>
<line x1="776.6" y1="617.2" x2="776.6" y2="671.4" stroke-width="2.20"/>
<line x1="787.7" y1="610.9" x2="787.7" y2="665" stroke-width="2.20"/>
<line x1="798.8" y1="604.6" x2="798.8" y2="658.6" stroke-width="2.20"/>
<line x1="809.9" y1="598.3" x2="809.9" y2="652.2" stroke-width="2.20"/>
<line x1="821" y1="592" x2="821" y2="645.9" stroke-width="2.20"/>
<path d="M710 709.7 q.6 3.4 5.5 2.2 q4.6 -1.6 5.5 -8.6" stroke-width="1.59"/>
<path d="M710 655.2 q.6 -3 5.5 -4.6 q4.6 -2 5.5 -1.7" stroke-width="1.46"/>
<line x1="715.5" y1="649.5" x2="715.5" y2="669.1" stroke-width="1.71"/>
<line x1="715.5" y1="674.5" x2="715.5" y2="685.2" stroke-width="1.71"/>
<line x1="715.5" y1="690.6" x2="715.5" y2="709" stroke-width="1.71"/>
<path d="M721.1 703.3 q.6 3.4 5.5 2.2 q4.6 -1.6 5.5 -8.6" stroke-width="1.59"/>
<path d="M721.1 648.9 q.6 -3 5.5 -4.6 q4.6 -2 5.5 -1.7" stroke-width="1.46"/>
<line x1="726.6" y1="643.2" x2="726.6" y2="662.8" stroke-width="1.71"/>
<line x1="726.6" y1="668.2" x2="726.6" y2="678.8" stroke-width="1.71"/>
<line x1="726.6" y1="684.2" x2="726.6" y2="702.6" stroke-width="1.71"/>
<path d="M732.2 696.9 q.6 3.4 5.5 2.2 q4.6 -1.6 5.5 -8.6" stroke-width="1.59"/>
<path d="M732.2 642.5 q.6 -3 5.5 -4.6 q4.6 -2 5.5 -1.7" stroke-width="1.46"/>
<line x1="737.8" y1="636.9" x2="737.8" y2="656.5" stroke-width="1.71"/>
<line x1="737.8" y1="661.8" x2="737.8" y2="672.5" stroke-width="1.71"/>
<line x1="737.8" y1="677.8" x2="737.8" y2="696.2" stroke-width="1.71"/>
<path d="M743.3 690.5 q.6 3.4 5.5 2.2 q4.6 -1.6 5.5 -8.6" stroke-width="1.59"/>
<path d="M743.3 636.2 q.6 -3 5.5 -4.6 q4.6 -2 5.5 -1.7" stroke-width="1.46"/>
<line x1="748.8" y1="630.6" x2="748.8" y2="650.1" stroke-width="1.71"/>
<line x1="748.8" y1="655.5" x2="748.8" y2="666.1" stroke-width="1.71"/>
<line x1="748.8" y1="671.5" x2="748.8" y2="689.9" stroke-width="1.71"/>
<path d="M754.4 684.2 q.6 3.4 5.5 2.2 q4.6 -1.6 5.5 -8.6" stroke-width="1.59"/>
<path d="M754.4 629.9 q.6 -3 5.5 -4.6 q4.6 -2 5.5 -1.7" stroke-width="1.46"/>
<line x1="759.9" y1="624.2" x2="759.9" y2="643.8" stroke-width="1.71"/>
<line x1="759.9" y1="649.1" x2="759.9" y2="659.8" stroke-width="1.71"/>
<line x1="759.9" y1="665.1" x2="759.9" y2="683.5" stroke-width="1.71"/>
<path d="M765.5 677.8 q.6 3.4 5.5 2.2 q4.6 -1.6 5.5 -8.6" stroke-width="1.59"/>
<path d="M765.5 623.6 q.6 -3 5.5 -4.6 q4.6 -2 5.5 -1.7" stroke-width="1.46"/>
<line x1="771" y1="617.9" x2="771" y2="637.4" stroke-width="1.71"/>
<line x1="771" y1="642.8" x2="771" y2="653.4" stroke-width="1.71"/>
<line x1="771" y1="658.7" x2="771" y2="677.1" stroke-width="1.71"/>
<path d="M776.6 671.4 q.6 3.4 5.5 2.2 q4.6 -1.6 5.5 -8.6" stroke-width="1.59"/>
<path d="M776.6 617.2 q.6 -3 5.5 -4.6 q4.6 -2 5.5 -1.7" stroke-width="1.46"/>
<line x1="782.1" y1="611.6" x2="782.1" y2="631.1" stroke-width="1.71"/>
<line x1="782.1" y1="636.4" x2="782.1" y2="647.1" stroke-width="1.71"/>
<line x1="782.1" y1="652.4" x2="782.1" y2="670.7" stroke-width="1.71"/>
<path d="M787.7 665 q.6 3.4 5.5 2.2 q4.6 -1.6 5.5 -8.6" stroke-width="1.59"/>
<path d="M787.7 610.9 q.6 -3 5.5 -4.6 q4.6 -2 5.5 -1.7" stroke-width="1.46"/>
<line x1="793.2" y1="605.3" x2="793.2" y2="624.8" stroke-width="1.71"/>
<line x1="793.2" y1="630.1" x2="793.2" y2="640.7" stroke-width="1.71"/>
<line x1="793.2" y1="646" x2="793.2" y2="664.3" stroke-width="1.71"/>
<path d="M798.8 658.6 q.6 3.4 5.5 2.2 q4.6 -1.6 5.5 -8.6" stroke-width="1.59"/>
<path d="M798.8 604.6 q.6 -3 5.5 -4.6 q4.6 -2 5.5 -1.7" stroke-width="1.46"/>
<line x1="804.3" y1="598.9" x2="804.3" y2="618.4" stroke-width="1.71"/>
<line x1="804.3" y1="623.7" x2="804.3" y2="634.3" stroke-width="1.71"/>
<line x1="804.3" y1="639.6" x2="804.3" y2="657.9" stroke-width="1.71"/>
<path d="M809.9 652.2 q.6 3.4 5.5 2.2 q4.6 -1.6 5.5 -8.6" stroke-width="1.59"/>
<path d="M809.9 598.3 q.6 -3 5.5 -4.6 q4.6 -2 5.5 -1.7" stroke-width="1.46"/>
<line x1="815.4" y1="592.6" x2="815.4" y2="612.1" stroke-width="1.71"/>
<line x1="815.4" y1="617.4" x2="815.4" y2="628" stroke-width="1.71"/>
<line x1="815.4" y1="633.3" x2="815.4" y2="651.6" stroke-width="1.71"/>
<line x1="825.8" y1="585" x2="825.8" y2="651.4" stroke-width="1.34"/>
<path d="M333.6 665.2 L314.4 675.6 q-3 2.4 -2 5 q1.4 2.6 4.6 1.6 L333.6 673" stroke-width="1.83"/>
<line x1="315.5" y1="679.4" x2="333" y2="669.6" stroke-width="2.4" stroke-dasharray="2 1.6"/>
<path d="M334.5 647 L365 630.6 L367.8 632.8 L367.2 703 L337.2 719.8 L334.5 718.4 Z" stroke-width="1.95" style="fill:#fff"/>
<path d="M334.5 647 L337.4 649.4 L367.8 632.8" stroke-width="1.34"/>
<line x1="337.4" y1="649.4" x2="337.2" y2="719.8" stroke-width="1.46"/>
<line x1="337.6" y1="646.2" x2="349" y2="640" stroke-width="2.44"/>
<line x1="353.6" y1="640.4" x2="363.4" y2="635" stroke-width="1.46"/>
<path d="M345.4 657.2 q-1 -1.8 2 -3.2 l8.6 -4.2 q2.4 -.6 2.6 .8 q0 1.4 -2.4 2.6 l-8.6 4.2 q-1.6 .6 -2.2 -.2z" stroke-width="1.59"/>
<line x1="346.6" y1="656.4" x2="357.4" y2="651" stroke-width="1.71"/>
<line x1="340" y1="668" x2="363.5" y2="655.5" stroke-width="1.46"/>
<path d="M341.5 678.5 L363 666.5 L363 676 L341.5 686.8 Z" stroke-width="1.59"/>
<path d="M349 673.4 l1.6 -2.4 l1.4 1.2 l2.2 -2 M358 668.4 l1.6 -.8" stroke-width="1.46"/>
<path d="M340.5 697 L363 685 L363 694.6 L340.5 705.2 Z" stroke-width="1.59"/>
<path d="M356.4 695.2 l2 -1 M350.6 700.2 l1.8 -2 l2.4 .4 l-1 2.4z" stroke-width="1.34"/>
<line x1="336" y1="694" x2="336" y2="712" stroke-width="1.95"/>
<line x1="366.6" y1="684" x2="366.6" y2="690" stroke-width="1.71"/>
<line x1="354" y1="700.8" x2="372.6" y2="712.8" stroke-dasharray="3 2.4" stroke-width="1.46"/>
<g transform="translate(0.4 3)">
<path d="M374.4 713.6 q2 -3 5 -1.2 q2.6 1.8 1 4.8 q-2 2.6 -5 1 q-2.4 -1.6 -1 -4.6z" stroke-width="1.71"/>
<path d="M380 714.8 l3.4 -1.4 l3.2 1 l2.8 -.4 l2 3.4 l-1 3.6 l-3.6 1.6 l-4 -1 l-2 -2.6 l.2 -2" stroke-width="1.95"/>
<path d="M384.2 718.2 q1.6 -1.8 3 .2 M385 721.6 l3 -1" stroke-width="1.46"/>
</g>
<path d="M328 779 L357 763 q3 -1 5 2 q4 5 5 12 q9 4 13 13 q3 8 3.4 15.6 L385.6 809 L357.4 823.6 L355.4 821 q-11 -3 -15.4 -10 q-3.4 -8 -3 -16 q-7 -6 -9 -17z" stroke-width="1.83"/>
<line x1="355.4" y1="821" x2="384.4" y2="805.8" stroke-width="1.46"/>
<path d="M337 795 L354 786 M367 777.4 q-5 1 -8.6 3.4" stroke-width="1.46"/>
<path d="M356.4 764.4 Q363 771 367 777.4 Q368.6 785 370 792 L382 805" stroke-width="1.1" stroke-dasharray="5 2.4"/>
<path d="M337 795 q6 5 8 12 q2.4 5 9 13" stroke-width="1.34"/>
<path d="M328.6 781 q5 5 6.6 8" stroke-width="1.34"/>
<path d="M343.4 781.6 l5 -2.4 M346 778.4 l.8 4.4 M353.6 780 l5 -2.4 M356 776.6 l.8 4.6" stroke-width="1.95"/>
<path d="M351.4 798.4 q-1.4 -3 1.4 -4 q2.6 -.6 3.2 2.2 q-.4 2.8 -2.6 3 q-1.4 0 -2 -1.2z M355.2 793.8 l3.4 -4.6 l1.4 1 l-2.6 5" stroke-width="1.59"/>
<path d="M359 805.4 l3 -1.6 l.8 4 l-2.6 1.4z M361.2 803.4 l3.6 -5.4 l1.2 .8 l-2.4 6" stroke-width="1.59"/>
</g>
</svg>
</body></html>
